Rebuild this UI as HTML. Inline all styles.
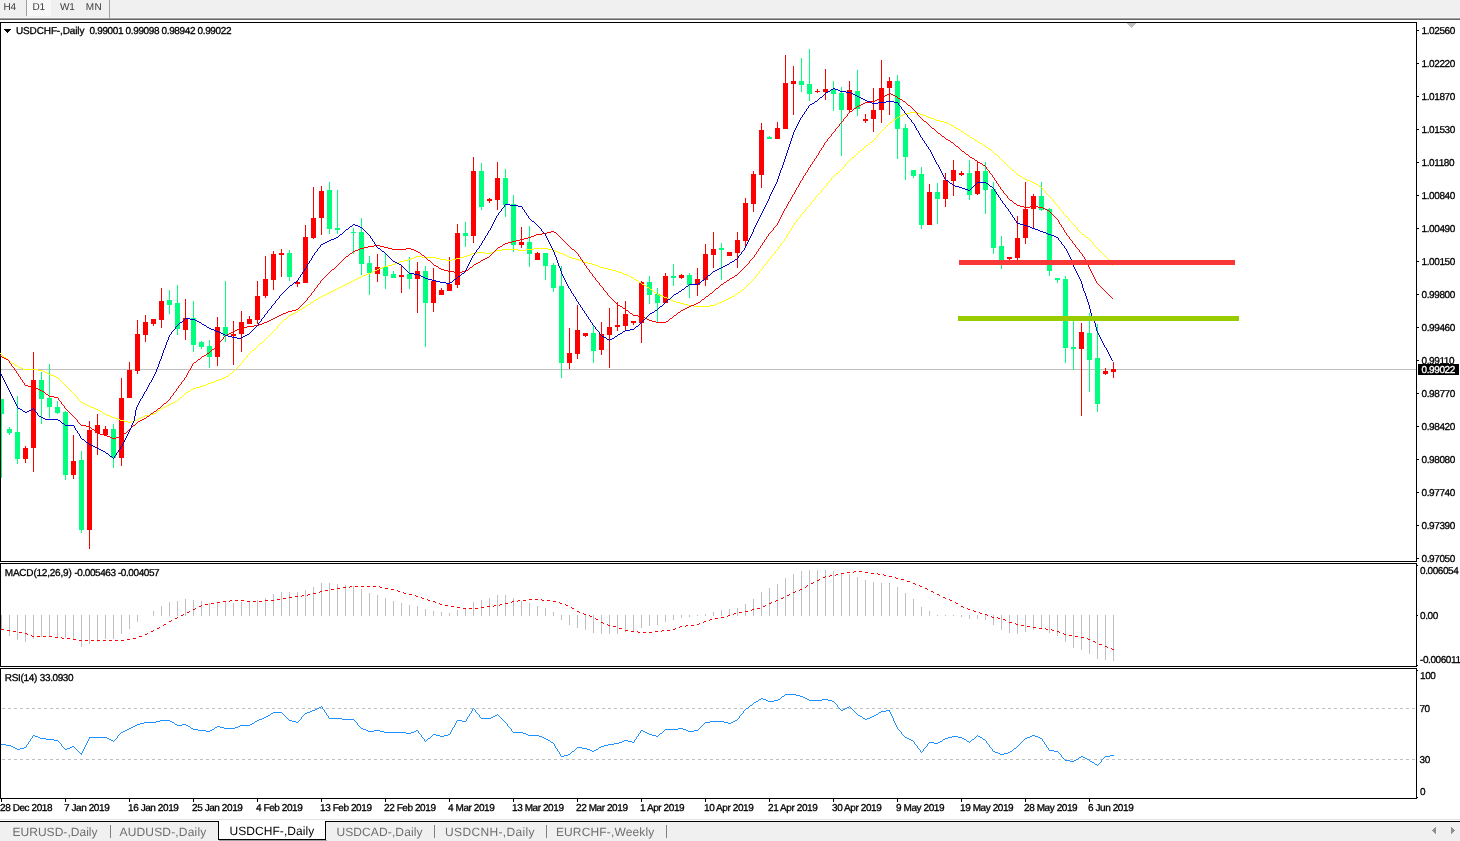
<!DOCTYPE html>
<html lang="en"><head><meta charset="utf-8"><title>USDCHF-,Daily</title>
<style>html,body{margin:0;padding:0;background:#fff;overflow:hidden}body{width:1460px;height:841px;position:relative}svg{position:absolute;left:0;top:0;display:block}text{font-family:"Liberation Sans", sans-serif;}text{text-rendering:geometricPrecision}.s{font-size:10px;letter-spacing:-0.42px;fill:#000;stroke:#000;stroke-width:0.3px}.d{letter-spacing:-0.42px}.tb{font-size:10px;letter-spacing:-0.3px;fill:#3a3a3a}.tab{font-size:12px;fill:#6e6e6e}.ce{shape-rendering:crispEdges}</style></head><body>
<svg width="1460" height="841" viewBox="0 0 1460 841">
<g class="ce">
<rect x="0" y="0" width="1460" height="18" fill="#f0f0f0"/>
<rect x="0" y="17" width="1460" height="1" fill="#f7f7f7"/>
<rect x="0" y="18" width="1460" height="1" fill="#a0a0a0"/>
<rect x="0" y="19" width="1460" height="1" fill="#696969"/>
<defs><pattern id="chk" width="2" height="2" patternUnits="userSpaceOnUse"><rect width="2" height="2" fill="#f0f0f0"/><rect width="1" height="1" fill="#fff"/><rect x="1" y="1" width="1" height="1" fill="#fff"/></pattern></defs>
<rect x="27" y="0" width="24" height="16" fill="url(#chk)"/>
<rect x="26" y="0" width="1" height="16" fill="#a0a0a0"/>
<rect x="109" y="0" width="1" height="18" fill="#a0a0a0"/>
<rect x="0" y="22" width="1417" height="1" fill="#000"/>
<rect x="0" y="22" width="1" height="540" fill="#000"/>
<rect x="0" y="561" width="1417" height="1" fill="#000"/>
<rect x="0" y="563" width="1417" height="1" fill="#000"/>
<rect x="0" y="563" width="1" height="104" fill="#000"/>
<rect x="0" y="666" width="1417" height="1" fill="#000"/>
<rect x="0" y="668" width="1417" height="1" fill="#000"/>
<rect x="0" y="668" width="1" height="131" fill="#000"/>
<rect x="0" y="798" width="1417" height="1" fill="#000"/>
<rect x="1416" y="22" width="1" height="540" fill="#000"/>
<rect x="1416" y="563" width="1" height="104" fill="#000"/>
<rect x="1416" y="668" width="1" height="131" fill="#000"/>
<rect x="1" y="369" width="1415" height="1" fill="#c0c0c0"/>
<polygon points="1127,23 1136,23 1131.5,28" fill="#c0c0c0"/>
<rect x="1" y="399" width="1" height="79" fill="#00ff7f"/>
<rect x="1" y="399" width="3" height="15" fill="#00ff7f"/>
<rect x="9" y="427" width="1" height="8" fill="#00ff7f"/>
<rect x="7" y="429" width="5" height="4" fill="#00ff7f"/>
<rect x="17" y="396" width="1" height="68" fill="#00ff7f"/>
<rect x="15" y="432" width="5" height="27" fill="#00ff7f"/>
<rect x="25" y="446" width="1" height="17" fill="#ff0000"/>
<rect x="23" y="448" width="5" height="11" fill="#ff0000"/>
<rect x="33" y="352" width="1" height="120" fill="#ff0000"/>
<rect x="31" y="380" width="5" height="68" fill="#ff0000"/>
<rect x="41" y="372" width="1" height="52" fill="#00ff7f"/>
<rect x="39" y="380" width="5" height="19" fill="#00ff7f"/>
<rect x="49" y="364" width="1" height="54" fill="#00ff7f"/>
<rect x="47" y="398" width="5" height="9" fill="#00ff7f"/>
<rect x="57" y="401" width="1" height="13" fill="#00ff7f"/>
<rect x="55" y="407" width="5" height="6" fill="#00ff7f"/>
<rect x="65" y="411" width="1" height="69" fill="#00ff7f"/>
<rect x="63" y="412" width="5" height="63" fill="#00ff7f"/>
<rect x="73" y="435" width="1" height="44" fill="#ff0000"/>
<rect x="71" y="461" width="5" height="14" fill="#ff0000"/>
<rect x="81" y="451" width="1" height="82" fill="#00ff7f"/>
<rect x="79" y="460" width="5" height="70" fill="#00ff7f"/>
<rect x="89" y="421" width="1" height="128" fill="#ff0000"/>
<rect x="87" y="430" width="5" height="100" fill="#ff0000"/>
<rect x="97" y="414" width="1" height="41" fill="#ff0000"/>
<rect x="95" y="425" width="5" height="8" fill="#ff0000"/>
<rect x="105" y="426" width="1" height="10" fill="#ff0000"/>
<rect x="103" y="429" width="5" height="6" fill="#ff0000"/>
<rect x="113" y="424" width="1" height="44" fill="#00ff7f"/>
<rect x="111" y="429" width="5" height="29" fill="#00ff7f"/>
<rect x="121" y="378" width="1" height="88" fill="#ff0000"/>
<rect x="119" y="398" width="5" height="60" fill="#ff0000"/>
<rect x="129" y="362" width="1" height="36" fill="#ff0000"/>
<rect x="127" y="370" width="5" height="28" fill="#ff0000"/>
<rect x="137" y="320" width="1" height="54" fill="#ff0000"/>
<rect x="135" y="334" width="5" height="37" fill="#ff0000"/>
<rect x="145" y="315" width="1" height="27" fill="#ff0000"/>
<rect x="143" y="322" width="5" height="13" fill="#ff0000"/>
<rect x="153" y="319" width="1" height="7" fill="#ff0000"/>
<rect x="151" y="319" width="5" height="5" fill="#ff0000"/>
<rect x="161" y="288" width="1" height="40" fill="#ff0000"/>
<rect x="159" y="301" width="5" height="19" fill="#ff0000"/>
<rect x="169" y="290" width="1" height="24" fill="#00ff7f"/>
<rect x="167" y="300" width="5" height="5" fill="#00ff7f"/>
<rect x="177" y="285" width="1" height="50" fill="#00ff7f"/>
<rect x="175" y="303" width="5" height="26" fill="#00ff7f"/>
<rect x="185" y="299" width="1" height="41" fill="#ff0000"/>
<rect x="183" y="318" width="5" height="12" fill="#ff0000"/>
<rect x="193" y="301" width="1" height="51" fill="#00ff7f"/>
<rect x="191" y="318" width="5" height="27" fill="#00ff7f"/>
<rect x="201" y="341" width="1" height="8" fill="#00ff7f"/>
<rect x="199" y="342" width="5" height="5" fill="#00ff7f"/>
<rect x="209" y="340" width="1" height="28" fill="#00ff7f"/>
<rect x="207" y="346" width="5" height="11" fill="#00ff7f"/>
<rect x="217" y="317" width="1" height="49" fill="#ff0000"/>
<rect x="215" y="327" width="5" height="30" fill="#ff0000"/>
<rect x="225" y="281" width="1" height="61" fill="#00ff7f"/>
<rect x="223" y="327" width="5" height="9" fill="#00ff7f"/>
<rect x="233" y="321" width="1" height="44" fill="#ff0000"/>
<rect x="231" y="334" width="5" height="2" fill="#ff0000"/>
<rect x="241" y="311" width="1" height="41" fill="#ff0000"/>
<rect x="239" y="322" width="5" height="12" fill="#ff0000"/>
<rect x="249" y="316" width="1" height="8" fill="#ff0000"/>
<rect x="247" y="319" width="5" height="5" fill="#ff0000"/>
<rect x="257" y="281" width="1" height="43" fill="#ff0000"/>
<rect x="255" y="296" width="5" height="24" fill="#ff0000"/>
<rect x="265" y="256" width="1" height="42" fill="#ff0000"/>
<rect x="263" y="279" width="5" height="17" fill="#ff0000"/>
<rect x="273" y="251" width="1" height="39" fill="#ff0000"/>
<rect x="271" y="254" width="5" height="26" fill="#ff0000"/>
<rect x="281" y="249" width="1" height="28" fill="#ff0000"/>
<rect x="279" y="253" width="5" height="2" fill="#ff0000"/>
<rect x="289" y="250" width="1" height="31" fill="#00ff7f"/>
<rect x="287" y="253" width="5" height="24" fill="#00ff7f"/>
<rect x="297" y="280" width="1" height="7" fill="#ff0000"/>
<rect x="295" y="282" width="5" height="2" fill="#ff0000"/>
<rect x="305" y="225" width="1" height="58" fill="#ff0000"/>
<rect x="303" y="237" width="5" height="46" fill="#ff0000"/>
<rect x="313" y="187" width="1" height="52" fill="#ff0000"/>
<rect x="311" y="218" width="5" height="20" fill="#ff0000"/>
<rect x="321" y="186" width="1" height="49" fill="#ff0000"/>
<rect x="319" y="191" width="5" height="27" fill="#ff0000"/>
<rect x="329" y="182" width="1" height="52" fill="#00ff7f"/>
<rect x="327" y="190" width="5" height="39" fill="#00ff7f"/>
<rect x="337" y="190" width="1" height="44" fill="#00ff7f"/>
<rect x="335" y="228" width="5" height="2" fill="#00ff7f"/>
<rect x="353" y="228" width="1" height="26" fill="#00ff7f"/>
<rect x="351" y="232" width="5" height="1" fill="#00ff7f"/>
<rect x="361" y="218" width="1" height="57" fill="#00ff7f"/>
<rect x="359" y="232" width="5" height="32" fill="#00ff7f"/>
<rect x="369" y="256" width="1" height="39" fill="#00ff7f"/>
<rect x="367" y="263" width="5" height="10" fill="#00ff7f"/>
<rect x="377" y="254" width="1" height="28" fill="#ff0000"/>
<rect x="375" y="267" width="5" height="7" fill="#ff0000"/>
<rect x="385" y="254" width="1" height="35" fill="#00ff7f"/>
<rect x="383" y="267" width="5" height="9" fill="#00ff7f"/>
<rect x="393" y="271" width="1" height="7" fill="#00ff7f"/>
<rect x="391" y="274" width="5" height="4" fill="#00ff7f"/>
<rect x="401" y="265" width="1" height="28" fill="#ff0000"/>
<rect x="399" y="275" width="5" height="2" fill="#ff0000"/>
<rect x="409" y="257" width="1" height="32" fill="#00ff7f"/>
<rect x="407" y="274" width="5" height="5" fill="#00ff7f"/>
<rect x="417" y="262" width="1" height="51" fill="#ff0000"/>
<rect x="415" y="271" width="5" height="8" fill="#ff0000"/>
<rect x="425" y="266" width="1" height="81" fill="#00ff7f"/>
<rect x="423" y="271" width="5" height="32" fill="#00ff7f"/>
<rect x="433" y="268" width="1" height="44" fill="#ff0000"/>
<rect x="431" y="281" width="5" height="22" fill="#ff0000"/>
<rect x="441" y="288" width="1" height="7" fill="#ff0000"/>
<rect x="439" y="290" width="5" height="5" fill="#ff0000"/>
<rect x="449" y="257" width="1" height="34" fill="#ff0000"/>
<rect x="447" y="284" width="5" height="7" fill="#ff0000"/>
<rect x="457" y="224" width="1" height="64" fill="#ff0000"/>
<rect x="455" y="233" width="5" height="52" fill="#ff0000"/>
<rect x="465" y="222" width="1" height="25" fill="#00ff7f"/>
<rect x="463" y="233" width="5" height="3" fill="#00ff7f"/>
<rect x="473" y="157" width="1" height="86" fill="#ff0000"/>
<rect x="471" y="171" width="5" height="65" fill="#ff0000"/>
<rect x="481" y="163" width="1" height="47" fill="#00ff7f"/>
<rect x="479" y="171" width="5" height="36" fill="#00ff7f"/>
<rect x="489" y="198" width="1" height="5" fill="#ff0000"/>
<rect x="487" y="199" width="5" height="2" fill="#ff0000"/>
<rect x="497" y="162" width="1" height="48" fill="#ff0000"/>
<rect x="495" y="178" width="5" height="22" fill="#ff0000"/>
<rect x="505" y="169" width="1" height="48" fill="#00ff7f"/>
<rect x="503" y="178" width="5" height="27" fill="#00ff7f"/>
<rect x="513" y="195" width="1" height="57" fill="#00ff7f"/>
<rect x="511" y="204" width="5" height="41" fill="#00ff7f"/>
<rect x="521" y="227" width="1" height="21" fill="#ff0000"/>
<rect x="519" y="242" width="5" height="3" fill="#ff0000"/>
<rect x="529" y="226" width="1" height="41" fill="#00ff7f"/>
<rect x="527" y="242" width="5" height="12" fill="#00ff7f"/>
<rect x="537" y="252" width="1" height="8" fill="#ff0000"/>
<rect x="535" y="253" width="5" height="7" fill="#ff0000"/>
<rect x="545" y="253" width="1" height="27" fill="#00ff7f"/>
<rect x="543" y="253" width="5" height="13" fill="#00ff7f"/>
<rect x="553" y="263" width="1" height="29" fill="#00ff7f"/>
<rect x="551" y="265" width="5" height="23" fill="#00ff7f"/>
<rect x="561" y="266" width="1" height="112" fill="#00ff7f"/>
<rect x="559" y="286" width="5" height="77" fill="#00ff7f"/>
<rect x="569" y="328" width="1" height="41" fill="#ff0000"/>
<rect x="567" y="353" width="5" height="10" fill="#ff0000"/>
<rect x="577" y="305" width="1" height="54" fill="#ff0000"/>
<rect x="575" y="330" width="5" height="24" fill="#ff0000"/>
<rect x="585" y="333" width="1" height="4" fill="#ff0000"/>
<rect x="583" y="333" width="5" height="3" fill="#ff0000"/>
<rect x="593" y="326" width="1" height="37" fill="#00ff7f"/>
<rect x="591" y="333" width="5" height="18" fill="#00ff7f"/>
<rect x="601" y="322" width="1" height="33" fill="#ff0000"/>
<rect x="599" y="334" width="5" height="16" fill="#ff0000"/>
<rect x="609" y="308" width="1" height="60" fill="#ff0000"/>
<rect x="607" y="327" width="5" height="8" fill="#ff0000"/>
<rect x="617" y="302" width="1" height="29" fill="#ff0000"/>
<rect x="615" y="325" width="5" height="2" fill="#ff0000"/>
<rect x="625" y="301" width="1" height="29" fill="#ff0000"/>
<rect x="623" y="314" width="5" height="12" fill="#ff0000"/>
<rect x="633" y="321" width="1" height="4" fill="#ff0000"/>
<rect x="631" y="321" width="5" height="2" fill="#ff0000"/>
<rect x="641" y="281" width="1" height="62" fill="#ff0000"/>
<rect x="639" y="282" width="5" height="41" fill="#ff0000"/>
<rect x="649" y="276" width="1" height="28" fill="#00ff7f"/>
<rect x="647" y="282" width="5" height="13" fill="#00ff7f"/>
<rect x="657" y="288" width="1" height="34" fill="#00ff7f"/>
<rect x="655" y="294" width="5" height="9" fill="#00ff7f"/>
<rect x="665" y="273" width="1" height="30" fill="#ff0000"/>
<rect x="663" y="276" width="5" height="27" fill="#ff0000"/>
<rect x="673" y="264" width="1" height="22" fill="#00ff7f"/>
<rect x="671" y="276" width="5" height="2" fill="#00ff7f"/>
<rect x="681" y="274" width="1" height="5" fill="#ff0000"/>
<rect x="679" y="275" width="5" height="3" fill="#ff0000"/>
<rect x="689" y="273" width="1" height="25" fill="#00ff7f"/>
<rect x="687" y="275" width="5" height="10" fill="#00ff7f"/>
<rect x="697" y="268" width="1" height="28" fill="#ff0000"/>
<rect x="695" y="279" width="5" height="6" fill="#ff0000"/>
<rect x="705" y="244" width="1" height="42" fill="#ff0000"/>
<rect x="703" y="254" width="5" height="26" fill="#ff0000"/>
<rect x="713" y="232" width="1" height="36" fill="#ff0000"/>
<rect x="711" y="249" width="5" height="6" fill="#ff0000"/>
<rect x="721" y="243" width="1" height="37" fill="#00ff7f"/>
<rect x="719" y="248" width="5" height="2" fill="#00ff7f"/>
<rect x="729" y="252" width="1" height="4" fill="#ff0000"/>
<rect x="727" y="252" width="5" height="4" fill="#ff0000"/>
<rect x="737" y="232" width="1" height="36" fill="#ff0000"/>
<rect x="735" y="240" width="5" height="13" fill="#ff0000"/>
<rect x="745" y="198" width="1" height="48" fill="#ff0000"/>
<rect x="743" y="203" width="5" height="38" fill="#ff0000"/>
<rect x="753" y="171" width="1" height="41" fill="#ff0000"/>
<rect x="751" y="174" width="5" height="30" fill="#ff0000"/>
<rect x="761" y="123" width="1" height="65" fill="#ff0000"/>
<rect x="759" y="130" width="5" height="45" fill="#ff0000"/>
<rect x="769" y="136" width="1" height="3" fill="#00ff7f"/>
<rect x="767" y="137" width="5" height="2" fill="#00ff7f"/>
<rect x="777" y="122" width="1" height="17" fill="#ff0000"/>
<rect x="775" y="128" width="5" height="11" fill="#ff0000"/>
<rect x="785" y="55" width="1" height="74" fill="#ff0000"/>
<rect x="783" y="83" width="5" height="46" fill="#ff0000"/>
<rect x="793" y="66" width="1" height="49" fill="#ff0000"/>
<rect x="791" y="81" width="5" height="3" fill="#ff0000"/>
<rect x="801" y="58" width="1" height="34" fill="#00ff7f"/>
<rect x="799" y="81" width="5" height="4" fill="#00ff7f"/>
<rect x="809" y="49" width="1" height="52" fill="#00ff7f"/>
<rect x="807" y="84" width="5" height="10" fill="#00ff7f"/>
<rect x="817" y="89" width="1" height="4" fill="#ff0000"/>
<rect x="815" y="91" width="5" height="1" fill="#ff0000"/>
<rect x="825" y="69" width="1" height="31" fill="#ff0000"/>
<rect x="823" y="89" width="5" height="3" fill="#ff0000"/>
<rect x="833" y="81" width="1" height="30" fill="#00ff7f"/>
<rect x="831" y="89" width="5" height="5" fill="#00ff7f"/>
<rect x="841" y="87" width="1" height="69" fill="#00ff7f"/>
<rect x="839" y="93" width="5" height="17" fill="#00ff7f"/>
<rect x="849" y="81" width="1" height="31" fill="#ff0000"/>
<rect x="847" y="90" width="5" height="20" fill="#ff0000"/>
<rect x="857" y="70" width="1" height="46" fill="#00ff7f"/>
<rect x="855" y="91" width="5" height="18" fill="#00ff7f"/>
<rect x="865" y="114" width="1" height="9" fill="#ff0000"/>
<rect x="863" y="119" width="5" height="2" fill="#ff0000"/>
<rect x="873" y="88" width="1" height="44" fill="#ff0000"/>
<rect x="871" y="110" width="5" height="9" fill="#ff0000"/>
<rect x="881" y="60" width="1" height="63" fill="#ff0000"/>
<rect x="879" y="88" width="5" height="22" fill="#ff0000"/>
<rect x="889" y="77" width="1" height="38" fill="#ff0000"/>
<rect x="887" y="81" width="5" height="7" fill="#ff0000"/>
<rect x="897" y="75" width="1" height="84" fill="#00ff7f"/>
<rect x="895" y="81" width="5" height="48" fill="#00ff7f"/>
<rect x="905" y="124" width="1" height="56" fill="#00ff7f"/>
<rect x="903" y="128" width="5" height="29" fill="#00ff7f"/>
<rect x="913" y="170" width="1" height="8" fill="#00ff7f"/>
<rect x="911" y="170" width="5" height="6" fill="#00ff7f"/>
<rect x="921" y="167" width="1" height="62" fill="#00ff7f"/>
<rect x="919" y="174" width="5" height="51" fill="#00ff7f"/>
<rect x="929" y="184" width="1" height="41" fill="#ff0000"/>
<rect x="927" y="192" width="5" height="33" fill="#ff0000"/>
<rect x="937" y="183" width="1" height="41" fill="#00ff7f"/>
<rect x="935" y="192" width="5" height="7" fill="#00ff7f"/>
<rect x="945" y="173" width="1" height="34" fill="#ff0000"/>
<rect x="943" y="180" width="5" height="19" fill="#ff0000"/>
<rect x="953" y="160" width="1" height="36" fill="#ff0000"/>
<rect x="951" y="170" width="5" height="11" fill="#ff0000"/>
<rect x="961" y="171" width="1" height="5" fill="#ff0000"/>
<rect x="959" y="173" width="5" height="2" fill="#ff0000"/>
<rect x="969" y="160" width="1" height="40" fill="#00ff7f"/>
<rect x="967" y="173" width="5" height="22" fill="#00ff7f"/>
<rect x="977" y="162" width="1" height="33" fill="#ff0000"/>
<rect x="975" y="171" width="5" height="23" fill="#ff0000"/>
<rect x="985" y="162" width="1" height="52" fill="#00ff7f"/>
<rect x="983" y="171" width="5" height="19" fill="#00ff7f"/>
<rect x="993" y="182" width="1" height="72" fill="#00ff7f"/>
<rect x="991" y="189" width="5" height="59" fill="#00ff7f"/>
<rect x="1001" y="236" width="1" height="33" fill="#00ff7f"/>
<rect x="999" y="246" width="5" height="16" fill="#00ff7f"/>
<rect x="1009" y="257" width="1" height="5" fill="#ff0000"/>
<rect x="1007" y="257" width="5" height="2" fill="#ff0000"/>
<rect x="1017" y="216" width="1" height="46" fill="#ff0000"/>
<rect x="1015" y="238" width="5" height="20" fill="#ff0000"/>
<rect x="1025" y="182" width="1" height="62" fill="#ff0000"/>
<rect x="1023" y="209" width="5" height="29" fill="#ff0000"/>
<rect x="1033" y="194" width="1" height="34" fill="#ff0000"/>
<rect x="1031" y="196" width="5" height="13" fill="#ff0000"/>
<rect x="1041" y="182" width="1" height="29" fill="#00ff7f"/>
<rect x="1039" y="196" width="5" height="14" fill="#00ff7f"/>
<rect x="1049" y="208" width="1" height="68" fill="#00ff7f"/>
<rect x="1047" y="209" width="5" height="62" fill="#00ff7f"/>
<rect x="1057" y="278" width="1" height="5" fill="#00ff7f"/>
<rect x="1055" y="278" width="5" height="2" fill="#00ff7f"/>
<rect x="1065" y="276" width="1" height="87" fill="#00ff7f"/>
<rect x="1063" y="279" width="5" height="69" fill="#00ff7f"/>
<rect x="1073" y="316" width="1" height="54" fill="#00ff7f"/>
<rect x="1071" y="347" width="5" height="2" fill="#00ff7f"/>
<rect x="1081" y="323" width="1" height="93" fill="#ff0000"/>
<rect x="1079" y="332" width="5" height="17" fill="#ff0000"/>
<rect x="1089" y="313" width="1" height="79" fill="#00ff7f"/>
<rect x="1087" y="333" width="5" height="27" fill="#00ff7f"/>
<rect x="1097" y="324" width="1" height="88" fill="#00ff7f"/>
<rect x="1095" y="358" width="5" height="46" fill="#00ff7f"/>
<rect x="1105" y="368" width="1" height="7" fill="#ff0000"/>
<rect x="1103" y="371" width="5" height="3" fill="#ff0000"/>
<rect x="1113" y="362" width="1" height="16" fill="#ff0000"/>
<rect x="1111" y="369" width="5" height="3" fill="#ff0000"/>
<path d="M77.5 397v2M242.5 361v2M247.5 355v2M277.5 326v2M755.5 276v2M759.5 271v2M763.5 266v2M767.5 261v2M771.5 256v2M775.5 251v2M778.5 247v2M781.5 243v2M784.5 239v2M786.5 236v2M787.5 234v2M789.5 231v2M791.5 228v2M792.5 226v2M794.5 223v2M797.5 219v2M800.5 215v2M805.5 209v2M811.5 202v2M815.5 197v2M821.5 190v2M827.5 183v2M831.5 178v2M845.5 164v2M877.5 135v2M1045.5 191v2M1053.5 200v2M1059.5 207v2M1063.5 212v2M1069.5 219v2M1077.5 228v2M1093.5 243v2M1109.5 260v2M1111.5 263v2M910 112.5h6M905 113.5h5M916 113.5h4M903 114.5h2M920 114.5h3M901 115.5h2M923 115.5h3M899 116.5h2M926 116.5h2M897 117.5h2M928 117.5h3M896 118.5h1M931 118.5h3M894 119.5h2M934 119.5h2M893 120.5h1M936 120.5h4M892 121.5h1M940 121.5h4M890 122.5h2M944 122.5h3M889 123.5h1M947 123.5h2M888 124.5h1M949 124.5h2M887 125.5h1M951 125.5h2M886 126.5h1M953 126.5h1M885 127.5h1M954 127.5h2M884 128.5h1M956 128.5h2M883 129.5h1M958 129.5h2M882 130.5h1M960 130.5h1M881 131.5h1M961 131.5h2M880 132.5h1M963 132.5h1M879 133.5h1M964 133.5h2M878 134.5h1M966 134.5h1M967 135.5h2M969 136.5h1M876 137.5h1M970 137.5h2M875 138.5h1M972 138.5h2M874 139.5h1M974 139.5h1M873 140.5h1M975 140.5h2M872 141.5h1M977 141.5h1M870 142.5h2M978 142.5h2M869 143.5h1M980 143.5h2M868 144.5h1M982 144.5h1M866 145.5h2M983 145.5h2M865 146.5h1M985 146.5h1M864 147.5h1M986 147.5h2M863 148.5h1M988 148.5h1M862 149.5h1M989 149.5h2M860 150.5h2M991 150.5h1M859 151.5h1M992 151.5h1M858 152.5h1M993 152.5h1M857 153.5h1M994 153.5h1M856 154.5h1M995 154.5h2M855 155.5h1M997 155.5h1M854 156.5h1M998 156.5h1M852 157.5h2M999 157.5h1M851 158.5h1M1000 158.5h1M850 159.5h1M1001 159.5h1M849 160.5h1M1002 160.5h1M848 161.5h1M1003 161.5h1M847 162.5h1M1004 162.5h1M846 163.5h1M1005 163.5h1M1006 164.5h1M1007 165.5h1M844 166.5h1M1008 166.5h1M843 167.5h1M1009 167.5h1M842 168.5h1M1010 168.5h1M841 169.5h1M1011 169.5h1M840 170.5h1M1012 170.5h2M839 171.5h1M1014 171.5h1M838 172.5h1M1015 172.5h1M836 173.5h2M1016 173.5h1M835 174.5h1M1017 174.5h1M834 175.5h1M1018 175.5h2M833 176.5h1M1020 176.5h2M832 177.5h1M1022 177.5h1M1023 178.5h2M1025 179.5h2M830 180.5h1M1027 180.5h3M829 181.5h1M1030 181.5h2M828 182.5h1M1032 182.5h2M1034 183.5h2M1036 184.5h2M826 185.5h1M1038 185.5h1M825 186.5h1M1039 186.5h2M824 187.5h1M1041 187.5h1M823 188.5h1M1042 188.5h1M822 189.5h1M1043 189.5h1M1044 190.5h1M820 192.5h1M819 193.5h1M1046 193.5h1M818 194.5h1M1047 194.5h1M817 195.5h1M1048 195.5h1M816 196.5h1M1049 196.5h1M1050 197.5h1M1051 198.5h1M814 199.5h1M1052 199.5h1M813 200.5h1M812 201.5h1M1054 202.5h1M1055 203.5h1M810 204.5h1M1056 204.5h1M809 205.5h1M1057 205.5h1M808 206.5h1M1058 206.5h1M807 207.5h1M806 208.5h1M1060 209.5h1M1061 210.5h1M804 211.5h1M1062 211.5h1M803 212.5h1M802 213.5h1M801 214.5h1M1064 214.5h1M1065 215.5h1M1066 216.5h1M799 217.5h1M1067 217.5h1M798 218.5h1M1068 218.5h1M796 221.5h1M1070 221.5h1M795 222.5h1M1071 222.5h1M1072 223.5h1M1073 224.5h1M793 225.5h1M1074 225.5h1M1075 226.5h1M1076 227.5h1M790 230.5h1M1078 230.5h1M1079 231.5h1M1080 232.5h1M788 233.5h1M1081 233.5h1M1082 234.5h2M1084 235.5h1M1085 236.5h1M1086 237.5h2M785 238.5h1M1088 238.5h1M1089 239.5h1M1090 240.5h1M783 241.5h1M1091 241.5h1M782 242.5h1M1092 242.5h1M780 245.5h1M1094 245.5h1M779 246.5h1M1095 246.5h1M1096 247.5h1M534 248.5h14M1097 248.5h1M502 249.5h16M526 249.5h8M548 249.5h4M777 249.5h1M1098 249.5h1M496 250.5h6M518 250.5h8M552 250.5h3M776 250.5h1M1099 250.5h1M494 251.5h2M555 251.5h3M1100 251.5h1M477 252.5h8M491 252.5h3M558 252.5h2M1101 252.5h1M472 253.5h5M485 253.5h6M560 253.5h3M774 253.5h1M1102 253.5h1M470 254.5h2M563 254.5h2M773 254.5h1M1103 254.5h1M467 255.5h3M565 255.5h2M772 255.5h1M1104 255.5h1M416 256.5h6M464 256.5h3M567 256.5h2M1105 256.5h1M414 257.5h2M422 257.5h14M460 257.5h4M569 257.5h3M1106 257.5h1M411 258.5h3M436 258.5h4M456 258.5h4M572 258.5h4M770 258.5h1M1107 258.5h1M408 259.5h3M440 259.5h6M452 259.5h4M576 259.5h3M769 259.5h1M1108 259.5h1M404 260.5h4M446 260.5h6M579 260.5h3M768 260.5h1M400 261.5h4M582 261.5h2M398 262.5h2M584 262.5h4M1110 262.5h1M395 263.5h3M588 263.5h4M766 263.5h1M392 264.5h3M592 264.5h3M765 264.5h1M388 265.5h4M595 265.5h3M764 265.5h1M1112 265.5h1M384 266.5h4M598 266.5h2M382 267.5h2M600 267.5h4M379 268.5h3M604 268.5h4M762 268.5h1M377 269.5h2M608 269.5h4M761 269.5h1M375 270.5h2M612 270.5h4M760 270.5h1M373 271.5h2M616 271.5h3M371 272.5h2M619 272.5h3M368 273.5h3M622 273.5h2M758 273.5h1M366 274.5h2M624 274.5h3M757 274.5h1M363 275.5h3M627 275.5h2M756 275.5h1M361 276.5h2M629 276.5h2M359 277.5h2M631 277.5h2M357 278.5h2M633 278.5h1M754 278.5h1M355 279.5h2M634 279.5h2M753 279.5h1M353 280.5h2M636 280.5h2M752 280.5h1M351 281.5h2M638 281.5h1M751 281.5h1M349 282.5h2M639 282.5h2M750 282.5h1M347 283.5h2M641 283.5h1M749 283.5h1M345 284.5h2M642 284.5h2M748 284.5h1M343 285.5h2M644 285.5h2M747 285.5h1M341 286.5h2M646 286.5h1M746 286.5h1M339 287.5h2M647 287.5h2M745 287.5h1M337 288.5h2M649 288.5h1M744 288.5h1M335 289.5h2M650 289.5h2M742 289.5h2M333 290.5h2M652 290.5h1M741 290.5h1M331 291.5h2M653 291.5h1M740 291.5h1M329 292.5h2M654 292.5h2M738 292.5h2M327 293.5h2M656 293.5h1M737 293.5h1M325 294.5h2M657 294.5h2M735 294.5h2M323 295.5h2M659 295.5h3M734 295.5h1M321 296.5h2M662 296.5h2M732 296.5h2M319 297.5h2M664 297.5h3M730 297.5h2M318 298.5h1M667 298.5h2M728 298.5h2M316 299.5h2M669 299.5h2M726 299.5h2M314 300.5h2M671 300.5h2M724 300.5h2M313 301.5h1M673 301.5h3M722 301.5h2M311 302.5h2M676 302.5h4M719 302.5h3M310 303.5h1M680 303.5h4M717 303.5h2M308 304.5h2M684 304.5h4M715 304.5h2M306 305.5h2M688 305.5h6M710 305.5h5M305 306.5h1M694 306.5h16M303 307.5h2M302 308.5h1M300 309.5h2M298 310.5h2M297 311.5h1M295 312.5h2M293 313.5h2M291 314.5h2M289 315.5h2M288 316.5h1M287 317.5h1M286 318.5h1M284 319.5h2M283 320.5h1M282 321.5h1M281 322.5h1M280 323.5h1M279 324.5h1M278 325.5h1M276 328.5h1M275 329.5h1M274 330.5h1M273 331.5h1M272 332.5h1M271 333.5h1M270 334.5h1M269 335.5h1M268 336.5h1M267 337.5h1M266 338.5h1M265 339.5h1M264 340.5h1M263 341.5h1M262 342.5h1M260 343.5h2M259 344.5h1M258 345.5h1M257 346.5h1M256 347.5h1M255 348.5h1M254 349.5h1M252 350.5h2M251 351.5h1M250 352.5h1M0 353.5h1M249 353.5h1M1 354.5h1M248 354.5h1M2 355.5h1M3 356.5h1M4 357.5h2M246 357.5h1M6 358.5h1M245 358.5h1M7 359.5h1M244 359.5h1M8 360.5h1M243 360.5h1M9 361.5h2M11 362.5h1M12 363.5h2M241 363.5h1M14 364.5h1M240 364.5h1M15 365.5h2M239 365.5h1M17 366.5h2M238 366.5h1M19 367.5h2M237 367.5h1M21 368.5h2M236 368.5h1M23 369.5h15M235 369.5h1M38 370.5h5M234 370.5h1M43 371.5h2M233 371.5h1M45 372.5h2M232 372.5h1M47 373.5h2M230 373.5h2M49 374.5h2M229 374.5h1M51 375.5h3M228 375.5h1M54 376.5h2M226 376.5h2M56 377.5h2M224 377.5h2M58 378.5h1M222 378.5h2M59 379.5h1M219 379.5h3M60 380.5h1M216 380.5h3M61 381.5h1M214 381.5h2M62 382.5h1M211 382.5h3M63 383.5h1M208 383.5h3M64 384.5h1M206 384.5h2M65 385.5h1M203 385.5h3M66 386.5h1M200 386.5h3M67 387.5h1M196 387.5h4M68 388.5h1M193 388.5h3M69 389.5h1M191 389.5h2M70 390.5h1M190 390.5h1M71 391.5h1M188 391.5h2M72 392.5h1M186 392.5h2M73 393.5h1M185 393.5h1M74 394.5h1M184 394.5h1M75 395.5h1M183 395.5h1M76 396.5h1M182 396.5h1M180 397.5h2M179 398.5h1M78 399.5h1M178 399.5h1M79 400.5h1M177 400.5h1M80 401.5h1M175 401.5h2M81 402.5h2M173 402.5h2M83 403.5h2M171 403.5h2M85 404.5h2M169 404.5h2M87 405.5h2M167 405.5h2M89 406.5h2M165 406.5h2M91 407.5h3M163 407.5h2M94 408.5h2M161 408.5h2M96 409.5h2M160 409.5h1M98 410.5h2M158 410.5h2M100 411.5h2M157 411.5h1M102 412.5h1M156 412.5h1M103 413.5h2M154 413.5h2M105 414.5h2M150 414.5h4M107 415.5h3M145 415.5h5M110 416.5h2M143 416.5h2M112 417.5h3M141 417.5h2M115 418.5h3M139 418.5h2M118 419.5h2M137 419.5h2M120 420.5h4M134 420.5h3M124 421.5h4M131 421.5h3M128 422.5h3" fill="none" stroke="#ffff00" stroke-width="1"/>
<path d="M9.5 361v2M11.5 364v2M14.5 368v2M16.5 371v2M18.5 374v2M20.5 377v2M22.5 380v2M24.5 383v2M58.5 398v2M61.5 402v2M64.5 406v2M77.5 420v2M170.5 397v2M173.5 393v2M176.5 389v2M178.5 386v2M181.5 382v2M184.5 378v2M186.5 375v2M187.5 373v2M188.5 371v2M190.5 368v2M191.5 366v2M192.5 364v2M219.5 342v2M223.5 337v2M307.5 298v2M311.5 293v2M314.5 289v2M317.5 285v2M320.5 281v2M578.5 254v2M580.5 257v2M582.5 260v2M584.5 263v2M586.5 266v2M589.5 270v2M592.5 274v2M595.5 278v2M599.5 283v2M603.5 288v2M607.5 293v2M749.5 261v2M754.5 255v2M756.5 252v2M758.5 249v2M760.5 246v2M762.5 243v2M764.5 240v2M766.5 237v2M768.5 234v2M773.5 228v2M777.5 223v2M778.5 221v2M779.5 219v2M780.5 217v2M781.5 215v2M782.5 213v2M783.5 211v2M784.5 209v2M786.5 206v2M787.5 204v2M788.5 202v2M790.5 199v2M791.5 197v2M792.5 195v2M794.5 192v2M795.5 190v2M796.5 188v2M798.5 185v2M799.5 183v2M800.5 181v2M802.5 178v2M803.5 176v2M805.5 173v2M807.5 170v2M808.5 168v2M810.5 165v2M812.5 162v2M814.5 159v2M816.5 156v2M818.5 153v2M819.5 151v2M821.5 148v2M823.5 145v2M824.5 143v2M827.5 139v2M831.5 134v2M835.5 129v2M839.5 124v2M843.5 119v2M847.5 114v2M917.5 113v2M986.5 167v2M989.5 171v2M992.5 175v2M994.5 178v2M996.5 181v2M998.5 184v2M1000.5 187v2M1003.5 191v2M1007.5 196v2M1058.5 220v2M1059.5 222v2M1061.5 225v2M1063.5 228v2M1064.5 230v2M1066.5 233v2M1069.5 237v2M1072.5 241v2M1075.5 245v2M1079.5 250v2M1082.5 254v2M1084.5 257v2M1085.5 259v2M1086.5 261v2M1087.5 263v2M1088.5 265v2M1089.5 267v2M1090.5 269v2M1091.5 271v2M1092.5 273v2M1093.5 275v2M1094.5 277v2M1095.5 279v2M1096.5 281v2M889 93.5h2M887 94.5h2M891 94.5h2M885 95.5h2M893 95.5h2M883 96.5h2M895 96.5h2M881 97.5h2M897 97.5h1M879 98.5h2M898 98.5h2M877 99.5h2M900 99.5h2M875 100.5h2M902 100.5h1M870 101.5h5M903 101.5h2M865 102.5h5M905 102.5h1M863 103.5h2M906 103.5h1M861 104.5h2M907 104.5h1M859 105.5h2M908 105.5h2M857 106.5h2M910 106.5h1M856 107.5h1M911 107.5h1M854 108.5h2M912 108.5h1M853 109.5h1M913 109.5h1M852 110.5h1M914 110.5h1M850 111.5h2M915 111.5h1M849 112.5h1M916 112.5h1M848 113.5h1M918 115.5h1M846 116.5h1M919 116.5h1M845 117.5h1M920 117.5h1M844 118.5h1M921 118.5h1M922 119.5h1M923 120.5h1M842 121.5h1M924 121.5h2M841 122.5h1M926 122.5h1M840 123.5h1M927 123.5h1M928 124.5h1M929 125.5h1M838 126.5h1M930 126.5h1M837 127.5h1M931 127.5h1M836 128.5h1M932 128.5h2M934 129.5h1M935 130.5h1M834 131.5h1M936 131.5h1M833 132.5h1M937 132.5h1M832 133.5h1M938 133.5h2M940 134.5h1M941 135.5h1M830 136.5h1M942 136.5h2M829 137.5h1M944 137.5h1M828 138.5h1M945 138.5h1M946 139.5h2M948 140.5h2M826 141.5h1M950 141.5h1M825 142.5h1M951 142.5h2M953 143.5h1M954 144.5h1M955 145.5h1M956 146.5h2M822 147.5h1M958 147.5h1M959 148.5h1M960 149.5h1M820 150.5h1M961 150.5h1M962 151.5h2M964 152.5h1M965 153.5h1M966 154.5h2M817 155.5h1M968 155.5h1M969 156.5h1M970 157.5h2M815 158.5h1M972 158.5h2M974 159.5h1M975 160.5h2M813 161.5h1M977 161.5h1M978 162.5h2M980 163.5h2M811 164.5h1M982 164.5h1M983 165.5h2M985 166.5h1M809 167.5h1M987 169.5h1M988 170.5h1M806 172.5h1M990 173.5h1M991 174.5h1M804 175.5h1M993 177.5h1M801 180.5h1M995 180.5h1M997 183.5h1M999 186.5h1M797 187.5h1M1001 189.5h1M1002 190.5h1M1004 193.5h1M793 194.5h1M1005 194.5h1M1006 195.5h1M1008 198.5h1M1009 199.5h1M1010 200.5h2M789 201.5h1M1012 201.5h1M1013 202.5h1M1014 203.5h2M1016 204.5h1M1017 205.5h3M1020 206.5h4M1030 206.5h8M1024 207.5h6M1038 207.5h5M785 208.5h1M1043 208.5h2M1045 209.5h2M1047 210.5h2M1049 211.5h1M1050 212.5h1M1051 213.5h1M1052 214.5h1M1053 215.5h1M1054 216.5h1M1055 217.5h1M1056 218.5h1M1057 219.5h1M1060 224.5h1M776 225.5h1M775 226.5h1M774 227.5h1M1062 227.5h1M772 230.5h1M551 231.5h3M771 231.5h1M547 232.5h4M554 232.5h2M770 232.5h1M1065 232.5h1M542 233.5h5M556 233.5h1M769 233.5h1M536 234.5h6M557 234.5h1M534 235.5h2M558 235.5h1M1067 235.5h1M531 236.5h3M559 236.5h1M767 236.5h1M1068 236.5h1M528 237.5h3M560 237.5h1M524 238.5h4M561 238.5h1M520 239.5h4M562 239.5h1M765 239.5h1M1070 239.5h1M516 240.5h4M563 240.5h1M1071 240.5h1M512 241.5h4M564 241.5h1M508 242.5h4M565 242.5h1M763 242.5h1M505 243.5h3M566 243.5h1M1073 243.5h1M503 244.5h2M567 244.5h1M1074 244.5h1M374 245.5h6M502 245.5h1M568 245.5h1M761 245.5h1M368 246.5h6M380 246.5h4M500 246.5h2M569 246.5h1M364 247.5h4M384 247.5h4M498 247.5h2M570 247.5h1M1076 247.5h1M360 248.5h4M388 248.5h4M406 248.5h5M497 248.5h1M571 248.5h1M759 248.5h1M1077 248.5h1M358 249.5h2M392 249.5h14M411 249.5h3M496 249.5h1M572 249.5h2M1078 249.5h1M355 250.5h3M414 250.5h2M495 250.5h1M574 250.5h1M353 251.5h2M416 251.5h2M494 251.5h1M575 251.5h1M757 251.5h1M352 252.5h1M418 252.5h2M493 252.5h1M576 252.5h1M1080 252.5h1M350 253.5h2M420 253.5h1M492 253.5h1M577 253.5h1M1081 253.5h1M349 254.5h1M421 254.5h1M491 254.5h1M755 254.5h1M348 255.5h1M422 255.5h2M490 255.5h1M346 256.5h2M424 256.5h1M489 256.5h1M579 256.5h1M1083 256.5h1M345 257.5h1M425 257.5h1M487 257.5h2M753 257.5h1M344 258.5h1M426 258.5h1M485 258.5h2M752 258.5h1M343 259.5h1M427 259.5h1M483 259.5h2M581 259.5h1M751 259.5h1M342 260.5h1M428 260.5h2M481 260.5h2M750 260.5h1M341 261.5h1M430 261.5h1M480 261.5h1M340 262.5h1M431 262.5h1M478 262.5h2M583 262.5h1M339 263.5h1M432 263.5h1M476 263.5h2M748 263.5h1M338 264.5h1M433 264.5h1M474 264.5h2M747 264.5h1M337 265.5h1M434 265.5h2M473 265.5h1M585 265.5h1M746 265.5h1M336 266.5h1M436 266.5h2M472 266.5h1M745 266.5h1M335 267.5h1M438 267.5h1M470 267.5h2M744 267.5h1M334 268.5h1M439 268.5h2M469 268.5h1M587 268.5h1M743 268.5h1M332 269.5h2M441 269.5h3M468 269.5h1M588 269.5h1M742 269.5h1M331 270.5h1M444 270.5h4M466 270.5h2M741 270.5h1M330 271.5h1M448 271.5h6M462 271.5h4M740 271.5h1M329 272.5h1M454 272.5h8M590 272.5h1M739 272.5h1M328 273.5h1M591 273.5h1M738 273.5h1M327 274.5h1M737 274.5h1M326 275.5h1M735 275.5h2M325 276.5h1M593 276.5h1M734 276.5h1M324 277.5h1M594 277.5h1M732 277.5h2M323 278.5h1M730 278.5h2M322 279.5h1M729 279.5h1M321 280.5h1M596 280.5h1M727 280.5h2M597 281.5h1M726 281.5h1M598 282.5h1M724 282.5h2M319 283.5h1M723 283.5h1M1097 283.5h1M318 284.5h1M721 284.5h2M1098 284.5h1M600 285.5h1M720 285.5h1M1099 285.5h1M601 286.5h1M719 286.5h1M1100 286.5h1M316 287.5h1M602 287.5h1M718 287.5h1M1101 287.5h1M315 288.5h1M716 288.5h2M1102 288.5h1M715 289.5h1M1103 289.5h1M604 290.5h1M714 290.5h1M1104 290.5h1M313 291.5h1M605 291.5h1M713 291.5h1M1105 291.5h1M312 292.5h1M606 292.5h1M712 292.5h1M1106 292.5h1M710 293.5h2M1107 293.5h1M709 294.5h1M1108 294.5h1M310 295.5h1M608 295.5h1M708 295.5h1M1109 295.5h1M309 296.5h1M609 296.5h1M706 296.5h2M1110 296.5h1M308 297.5h1M610 297.5h1M705 297.5h1M1111 297.5h1M611 298.5h1M704 298.5h1M1112 298.5h1M612 299.5h1M702 299.5h2M306 300.5h1M613 300.5h1M701 300.5h1M305 301.5h1M614 301.5h1M700 301.5h1M304 302.5h1M615 302.5h1M698 302.5h2M303 303.5h1M616 303.5h1M696 303.5h2M302 304.5h1M617 304.5h1M694 304.5h2M301 305.5h1M618 305.5h2M691 305.5h3M300 306.5h1M620 306.5h2M689 306.5h2M299 307.5h1M622 307.5h1M687 307.5h2M298 308.5h1M623 308.5h2M685 308.5h2M296 309.5h2M625 309.5h1M683 309.5h2M292 310.5h4M626 310.5h2M681 310.5h2M288 311.5h4M628 311.5h1M680 311.5h1M286 312.5h2M629 312.5h1M678 312.5h2M283 313.5h3M630 313.5h2M677 313.5h1M281 314.5h2M632 314.5h1M676 314.5h1M279 315.5h2M633 315.5h5M674 315.5h2M277 316.5h2M638 316.5h5M673 316.5h1M275 317.5h2M643 317.5h2M672 317.5h1M273 318.5h2M645 318.5h2M670 318.5h2M271 319.5h2M647 319.5h2M669 319.5h1M269 320.5h2M649 320.5h3M668 320.5h1M267 321.5h2M652 321.5h4M666 321.5h2M264 322.5h3M656 322.5h10M262 323.5h2M259 324.5h3M254 325.5h5M247 326.5h7M243 327.5h4M239 328.5h4M237 329.5h2M235 330.5h2M233 331.5h2M231 332.5h2M229 333.5h2M227 334.5h2M225 335.5h2M224 336.5h1M222 339.5h1M221 340.5h1M220 341.5h1M218 344.5h1M217 345.5h1M216 346.5h1M215 347.5h1M214 348.5h1M212 349.5h2M211 350.5h1M210 351.5h1M209 352.5h1M207 353.5h2M206 354.5h1M0 355.5h1M204 355.5h2M1 356.5h1M202 356.5h2M2 357.5h2M201 357.5h1M4 358.5h2M200 358.5h1M6 359.5h2M198 359.5h2M8 360.5h1M197 360.5h1M196 361.5h1M194 362.5h2M10 363.5h1M193 363.5h1M12 366.5h1M13 367.5h1M15 370.5h1M189 370.5h1M17 373.5h1M19 376.5h1M185 377.5h1M21 379.5h1M183 380.5h1M182 381.5h1M23 382.5h1M180 384.5h1M25 385.5h3M179 385.5h1M28 386.5h4M32 387.5h3M35 388.5h3M177 388.5h1M38 389.5h2M40 390.5h2M42 391.5h2M175 391.5h1M44 392.5h1M174 392.5h1M45 393.5h1M46 394.5h2M48 395.5h1M172 395.5h1M49 396.5h5M171 396.5h1M54 397.5h4M169 399.5h1M59 400.5h1M168 400.5h1M60 401.5h1M167 401.5h1M166 402.5h1M164 403.5h2M62 404.5h1M163 404.5h1M63 405.5h1M162 405.5h1M161 406.5h1M160 407.5h1M65 408.5h1M158 408.5h2M66 409.5h1M157 409.5h1M67 410.5h1M156 410.5h1M68 411.5h1M154 411.5h2M69 412.5h1M153 412.5h1M70 413.5h1M151 413.5h2M71 414.5h1M150 414.5h1M72 415.5h1M149 415.5h1M73 416.5h1M147 416.5h2M74 417.5h1M146 417.5h1M75 418.5h1M144 418.5h2M76 419.5h1M142 419.5h2M140 420.5h2M138 421.5h2M78 422.5h1M137 422.5h1M79 423.5h1M136 423.5h1M80 424.5h1M135 424.5h1M81 425.5h5M133 425.5h2M86 426.5h4M132 426.5h1M90 427.5h1M131 427.5h1M91 428.5h1M130 428.5h1M92 429.5h2M129 429.5h1M94 430.5h1M128 430.5h1M95 431.5h1M127 431.5h1M96 432.5h1M126 432.5h1M97 433.5h3M124 433.5h2M100 434.5h4M123 434.5h1M104 435.5h3M122 435.5h1M107 436.5h3M120 436.5h2M110 437.5h2M116 437.5h4M112 438.5h4" fill="none" stroke="#ff0000" stroke-width="1"/>
<path d="M1.5 374v2M2.5 376v2M3.5 378v2M4.5 380v2M5.5 382v2M6.5 384v2M7.5 386v2M8.5 388v2M9.5 390v2M10.5 392v2M11.5 394v2M12.5 396v2M13.5 398v2M14.5 400v2M15.5 402v2M16.5 404v2M17.5 406v2M34.5 409v2M37.5 413v2M74.5 426v2M75.5 428v2M77.5 431v2M79.5 434v2M80.5 436v2M114.5 456v2M116.5 453v2M118.5 450v2M120.5 447v2M122.5 444v2M123.5 442v2M124.5 440v2M125.5 438v2M126.5 436v2M127.5 434v2M128.5 432v2M129.5 430v2M130.5 428v2M131.5 425v3M132.5 423v2M133.5 421v2M134.5 416v5M135.5 410v6M136.5 407v3M137.5 405v2M138.5 403v2M139.5 401v2M140.5 399v2M142.5 396v2M143.5 394v2M144.5 392v2M146.5 389v2M147.5 387v2M148.5 385v2M149.5 383v2M151.5 380v2M152.5 378v2M153.5 376v2M154.5 374v2M155.5 372v2M156.5 369v3M157.5 367v2M158.5 364v3M159.5 361v3M160.5 359v2M161.5 356v3M162.5 353v3M163.5 350v3M164.5 348v2M165.5 345v3M166.5 342v3M167.5 340v2M168.5 337v3M169.5 335v2M171.5 332v2M175.5 327v2M258.5 323v2M261.5 319v2M264.5 315v2M267.5 311v2M271.5 306v2M275.5 301v2M279.5 296v2M298.5 278v2M300.5 275v2M302.5 272v2M304.5 269v2M306.5 266v2M307.5 264v2M309.5 261v2M311.5 258v2M312.5 256v2M314.5 253v2M317.5 249v2M320.5 245v2M370.5 236v2M372.5 239v2M374.5 242v2M376.5 245v2M465.5 270v2M466.5 268v2M467.5 266v2M468.5 264v2M469.5 262v2M470.5 260v2M471.5 258v2M472.5 256v2M474.5 253v2M476.5 250v2M479.5 246v2M481.5 243v2M482.5 241v2M484.5 238v2M485.5 236v2M487.5 233v2M488.5 231v2M490.5 228v2M491.5 226v2M492.5 224v2M493.5 222v2M494.5 220v2M495.5 218v2M496.5 216v2M498.5 213v2M501.5 209v2M504.5 205v2M522.5 207v2M524.5 210v2M526.5 213v2M528.5 216v2M541.5 229v2M545.5 234v2M546.5 236v2M547.5 238v2M548.5 240v2M549.5 242v2M550.5 244v2M551.5 246v2M552.5 248v2M553.5 250v2M554.5 252v3M555.5 255v2M556.5 257v3M557.5 260v3M558.5 263v3M559.5 266v2M560.5 268v3M561.5 271v3M562.5 274v2M563.5 276v2M564.5 278v2M565.5 280v2M566.5 282v2M567.5 284v2M568.5 286v2M570.5 289v2M571.5 291v2M573.5 294v2M575.5 297v2M576.5 299v2M578.5 302v2M580.5 305v2M582.5 308v2M584.5 311v2M586.5 314v2M588.5 317v2M590.5 320v2M592.5 323v2M595.5 327v2M599.5 332v2M738.5 256v2M741.5 252v2M744.5 248v2M745.5 246v2M746.5 244v2M747.5 242v2M748.5 240v2M749.5 238v2M750.5 236v2M751.5 234v2M752.5 232v2M753.5 229v3M754.5 227v2M755.5 225v2M756.5 223v2M757.5 221v2M758.5 219v2M759.5 217v2M760.5 215v2M761.5 213v2M762.5 211v2M763.5 209v2M764.5 207v2M765.5 205v2M766.5 203v2M767.5 201v2M768.5 199v2M769.5 196v3M770.5 194v2M771.5 192v2M772.5 190v2M773.5 188v2M774.5 186v2M775.5 184v2M776.5 182v2M777.5 179v3M778.5 176v3M779.5 173v3M780.5 170v3M781.5 168v2M782.5 165v3M783.5 162v3M784.5 159v3M785.5 156v3M786.5 153v3M787.5 150v3M788.5 147v3M789.5 144v3M790.5 141v3M791.5 138v3M792.5 135v3M793.5 132v3M794.5 130v2M795.5 128v2M796.5 126v2M797.5 124v2M798.5 122v2M799.5 120v2M800.5 118v2M802.5 115v2M804.5 112v2M806.5 109v2M808.5 106v2M898.5 103v2M901.5 107v2M904.5 111v2M907.5 115v2M911.5 120v2M914.5 124v2M915.5 126v2M916.5 128v2M918.5 131v2M919.5 133v2M920.5 135v2M922.5 138v2M924.5 141v2M926.5 144v2M928.5 147v2M930.5 150v2M931.5 152v2M932.5 154v2M933.5 156v2M934.5 158v2M935.5 160v2M936.5 162v2M938.5 165v2M939.5 167v2M940.5 169v2M941.5 171v2M942.5 173v2M943.5 175v2M944.5 177v2M994.5 189v2M996.5 192v2M998.5 195v2M1000.5 198v2M1002.5 201v2M1005.5 205v2M1008.5 209v2M1010.5 212v2M1012.5 215v2M1014.5 218v2M1016.5 221v2M1058.5 238v2M1061.5 242v2M1064.5 246v2M1066.5 249v2M1067.5 251v2M1068.5 253v2M1069.5 255v2M1070.5 257v2M1071.5 259v2M1072.5 261v3M1073.5 264v3M1074.5 267v2M1075.5 269v2M1076.5 271v2M1077.5 273v2M1078.5 275v2M1079.5 277v2M1080.5 279v2M1081.5 281v3M1082.5 284v4M1083.5 288v3M1084.5 291v2M1085.5 293v3M1086.5 296v3M1087.5 299v3M1088.5 302v3M1089.5 305v4M1090.5 309v4M1091.5 313v4M1092.5 317v2M1093.5 319v2M1094.5 321v2M1095.5 323v4M1096.5 327v4M1097.5 331v2M1098.5 333v2M1099.5 335v2M1100.5 337v2M1101.5 339v2M1102.5 341v2M1103.5 343v2M1104.5 345v2M1106.5 348v2M1107.5 350v2M1108.5 352v2M1109.5 354v2M1110.5 356v2M1111.5 358v2M833 88.5h2M831 89.5h2M835 89.5h3M830 90.5h1M838 90.5h2M828 91.5h2M840 91.5h6M826 92.5h2M846 92.5h5M825 93.5h1M851 93.5h2M824 94.5h1M853 94.5h2M823 95.5h1M855 95.5h2M822 96.5h1M857 96.5h2M820 97.5h2M859 97.5h2M819 98.5h1M861 98.5h2M818 99.5h1M863 99.5h2M817 100.5h1M865 100.5h2M815 101.5h2M867 101.5h3M886 101.5h8M814 102.5h1M870 102.5h2M878 102.5h8M894 102.5h4M812 103.5h2M872 103.5h6M810 104.5h2M809 105.5h1M899 105.5h1M900 106.5h1M807 108.5h1M902 109.5h1M903 110.5h1M805 111.5h1M905 113.5h1M803 114.5h1M906 114.5h1M801 117.5h1M908 117.5h1M909 118.5h1M910 119.5h1M912 122.5h1M913 123.5h1M917 130.5h1M921 137.5h1M923 140.5h1M925 143.5h1M927 146.5h1M929 149.5h1M937 164.5h1M945 179.5h1M946 180.5h2M948 181.5h1M949 182.5h1M977 182.5h9M950 183.5h2M976 183.5h1M986 183.5h2M952 184.5h1M975 184.5h1M988 184.5h1M953 185.5h2M974 185.5h1M989 185.5h1M955 186.5h4M973 186.5h1M990 186.5h2M959 187.5h3M972 187.5h1M992 187.5h1M962 188.5h3M971 188.5h1M993 188.5h1M965 189.5h3M970 189.5h1M968 190.5h2M995 191.5h1M997 194.5h1M999 197.5h1M1001 200.5h1M1003 203.5h1M505 204.5h5M1004 204.5h1M510 205.5h8M518 206.5h4M503 207.5h1M1006 207.5h1M502 208.5h1M1007 208.5h1M523 209.5h1M500 211.5h1M1009 211.5h1M499 212.5h1M525 212.5h1M1011 214.5h1M497 215.5h1M527 215.5h1M1013 217.5h1M529 218.5h1M530 219.5h1M531 220.5h1M1015 220.5h1M532 221.5h2M534 222.5h1M535 223.5h1M1017 223.5h3M353 224.5h2M536 224.5h1M1020 224.5h4M352 225.5h1M355 225.5h3M537 225.5h1M1024 225.5h3M350 226.5h2M358 226.5h2M538 226.5h1M1027 226.5h3M349 227.5h1M360 227.5h2M539 227.5h1M1030 227.5h2M348 228.5h1M362 228.5h1M540 228.5h1M1032 228.5h3M346 229.5h2M363 229.5h1M1035 229.5h3M345 230.5h1M364 230.5h1M489 230.5h1M1038 230.5h2M344 231.5h1M365 231.5h1M542 231.5h1M1040 231.5h3M343 232.5h1M366 232.5h1M543 232.5h1M1043 232.5h3M342 233.5h1M367 233.5h1M544 233.5h1M1046 233.5h2M340 234.5h2M368 234.5h1M1048 234.5h3M339 235.5h1M369 235.5h1M486 235.5h1M1051 235.5h3M338 236.5h1M1054 236.5h2M336 237.5h2M1056 237.5h2M334 238.5h2M371 238.5h1M331 239.5h3M329 240.5h2M483 240.5h1M1059 240.5h1M327 241.5h2M373 241.5h1M1060 241.5h1M325 242.5h2M323 243.5h2M321 244.5h2M375 244.5h1M1062 244.5h1M480 245.5h1M1063 245.5h1M319 247.5h1M377 247.5h1M318 248.5h1M378 248.5h2M478 248.5h1M1065 248.5h1M380 249.5h1M477 249.5h1M381 250.5h1M743 250.5h1M316 251.5h1M382 251.5h2M742 251.5h1M315 252.5h1M384 252.5h1M475 252.5h1M385 253.5h1M386 254.5h1M740 254.5h1M313 255.5h1M387 255.5h1M473 255.5h1M739 255.5h1M388 256.5h1M389 257.5h1M390 258.5h1M737 258.5h1M391 259.5h1M735 259.5h2M310 260.5h1M392 260.5h1M734 260.5h1M393 261.5h2M732 261.5h2M395 262.5h2M730 262.5h2M308 263.5h1M397 263.5h2M729 263.5h1M399 264.5h2M727 264.5h2M401 265.5h1M725 265.5h2M402 266.5h1M723 266.5h2M403 267.5h1M721 267.5h2M305 268.5h1M404 268.5h1M719 268.5h2M405 269.5h1M717 269.5h2M406 270.5h1M715 270.5h2M303 271.5h1M407 271.5h1M713 271.5h2M408 272.5h1M464 272.5h1M712 272.5h1M409 273.5h5M462 273.5h2M711 273.5h1M301 274.5h1M414 274.5h5M461 274.5h1M710 274.5h1M419 275.5h2M460 275.5h1M708 275.5h2M421 276.5h2M458 276.5h2M707 276.5h1M299 277.5h1M423 277.5h2M457 277.5h1M706 277.5h1M425 278.5h3M456 278.5h1M705 278.5h1M428 279.5h4M454 279.5h2M704 279.5h1M297 280.5h1M432 280.5h4M453 280.5h1M702 280.5h2M296 281.5h1M436 281.5h4M452 281.5h1M701 281.5h1M294 282.5h2M440 282.5h6M450 282.5h2M700 282.5h1M293 283.5h1M446 283.5h4M698 283.5h2M292 284.5h1M689 284.5h9M290 285.5h2M688 285.5h1M289 286.5h1M686 286.5h2M288 287.5h1M685 287.5h1M287 288.5h1M569 288.5h1M684 288.5h1M286 289.5h1M682 289.5h2M285 290.5h1M681 290.5h1M284 291.5h1M679 291.5h2M283 292.5h1M678 292.5h1M282 293.5h1M572 293.5h1M676 293.5h2M281 294.5h1M674 294.5h2M280 295.5h1M673 295.5h1M574 296.5h1M672 296.5h1M671 297.5h1M278 298.5h1M670 298.5h1M277 299.5h1M668 299.5h2M276 300.5h1M667 300.5h1M577 301.5h1M666 301.5h1M665 302.5h1M274 303.5h1M664 303.5h1M273 304.5h1M579 304.5h1M663 304.5h1M272 305.5h1M662 305.5h1M660 306.5h2M581 307.5h1M659 307.5h1M270 308.5h1M658 308.5h1M269 309.5h1M657 309.5h1M268 310.5h1M583 310.5h1M655 310.5h2M654 311.5h1M652 312.5h2M266 313.5h1M585 313.5h1M650 313.5h2M265 314.5h1M649 314.5h1M648 315.5h1M587 316.5h1M647 316.5h1M263 317.5h1M646 317.5h1M185 318.5h5M262 318.5h1M645 318.5h1M184 319.5h1M190 319.5h5M589 319.5h1M644 319.5h1M183 320.5h1M195 320.5h2M643 320.5h1M182 321.5h1M197 321.5h2M260 321.5h1M642 321.5h1M180 322.5h2M199 322.5h2M259 322.5h1M591 322.5h1M641 322.5h1M179 323.5h1M201 323.5h1M640 323.5h1M178 324.5h1M202 324.5h2M639 324.5h1M177 325.5h1M204 325.5h2M257 325.5h1M593 325.5h1M638 325.5h1M176 326.5h1M206 326.5h1M256 326.5h1M594 326.5h1M636 326.5h2M207 327.5h2M255 327.5h1M635 327.5h1M209 328.5h2M254 328.5h1M634 328.5h1M174 329.5h1M211 329.5h3M253 329.5h1M596 329.5h1M630 329.5h4M173 330.5h1M214 330.5h2M252 330.5h1M597 330.5h1M625 330.5h5M172 331.5h1M216 331.5h3M251 331.5h1M598 331.5h1M623 331.5h2M219 332.5h2M250 332.5h1M622 332.5h1M221 333.5h2M249 333.5h1M620 333.5h2M170 334.5h1M223 334.5h2M247 334.5h2M600 334.5h1M618 334.5h2M225 335.5h3M245 335.5h2M601 335.5h1M617 335.5h1M228 336.5h4M243 336.5h2M602 336.5h2M615 336.5h2M232 337.5h5M241 337.5h2M604 337.5h2M614 337.5h1M237 338.5h4M606 338.5h1M612 338.5h2M607 339.5h2M610 339.5h2M609 340.5h1M1105 347.5h1M1112 360.5h1M0 373.5h1M150 382.5h1M145 391.5h1M141 398.5h1M18 408.5h2M33 408.5h1M20 409.5h2M31 409.5h2M22 410.5h1M29 410.5h2M23 411.5h2M27 411.5h2M35 411.5h1M25 412.5h2M36 412.5h1M38 415.5h1M39 416.5h2M41 417.5h2M43 418.5h2M45 419.5h13M58 420.5h2M60 421.5h1M61 422.5h1M62 423.5h2M64 424.5h1M65 425.5h9M76 430.5h1M78 433.5h1M81 438.5h1M82 439.5h2M84 440.5h1M85 441.5h1M86 442.5h2M88 443.5h1M89 444.5h2M91 445.5h2M93 446.5h2M121 446.5h1M95 447.5h2M97 448.5h2M99 449.5h2M119 449.5h1M101 450.5h2M103 451.5h2M105 452.5h1M117 452.5h1M106 453.5h2M108 454.5h1M109 455.5h1M115 455.5h1M110 456.5h2M112 457.5h1M113 458.5h1" fill="none" stroke="#0000cd" stroke-width="1"/>
<rect x="959" y="260" width="276" height="5" fill="#f93737"/>
<rect x="958" y="316" width="281" height="5" fill="#99cc00"/>
<rect x="1417" y="30" width="2" height="1" fill="#000"/>
<rect x="1417" y="63" width="2" height="1" fill="#000"/>
<rect x="1417" y="96" width="2" height="1" fill="#000"/>
<rect x="1417" y="129" width="2" height="1" fill="#000"/>
<rect x="1417" y="162" width="2" height="1" fill="#000"/>
<rect x="1417" y="195" width="2" height="1" fill="#000"/>
<rect x="1417" y="228" width="2" height="1" fill="#000"/>
<rect x="1417" y="261" width="2" height="1" fill="#000"/>
<rect x="1417" y="294" width="2" height="1" fill="#000"/>
<rect x="1417" y="327" width="2" height="1" fill="#000"/>
<rect x="1417" y="360" width="2" height="1" fill="#000"/>
<rect x="1417" y="393" width="2" height="1" fill="#000"/>
<rect x="1417" y="426" width="2" height="1" fill="#000"/>
<rect x="1417" y="459" width="2" height="1" fill="#000"/>
<rect x="1417" y="492" width="2" height="1" fill="#000"/>
<rect x="1417" y="525" width="2" height="1" fill="#000"/>
<rect x="1417" y="558" width="2" height="1" fill="#000"/>
<rect x="1418" y="364" width="41" height="11" fill="#000"/>
<rect x="1" y="615" width="1" height="14" fill="#c0c0c0"/>
<rect x="9" y="615" width="1" height="21" fill="#c0c0c0"/>
<rect x="17" y="615" width="1" height="25" fill="#c0c0c0"/>
<rect x="25" y="615" width="1" height="27" fill="#c0c0c0"/>
<rect x="33" y="615" width="1" height="24" fill="#c0c0c0"/>
<rect x="41" y="615" width="1" height="22" fill="#c0c0c0"/>
<rect x="49" y="615" width="1" height="21" fill="#c0c0c0"/>
<rect x="57" y="615" width="1" height="22" fill="#c0c0c0"/>
<rect x="65" y="615" width="1" height="23" fill="#c0c0c0"/>
<rect x="73" y="615" width="1" height="25" fill="#c0c0c0"/>
<rect x="81" y="615" width="1" height="32" fill="#c0c0c0"/>
<rect x="89" y="615" width="1" height="29" fill="#c0c0c0"/>
<rect x="97" y="615" width="1" height="27" fill="#c0c0c0"/>
<rect x="105" y="615" width="1" height="24" fill="#c0c0c0"/>
<rect x="113" y="615" width="1" height="24" fill="#c0c0c0"/>
<rect x="121" y="615" width="1" height="19" fill="#c0c0c0"/>
<rect x="129" y="615" width="1" height="14" fill="#c0c0c0"/>
<rect x="137" y="615" width="1" height="7" fill="#c0c0c0"/>
<rect x="153" y="611" width="1" height="5" fill="#c0c0c0"/>
<rect x="161" y="606" width="1" height="10" fill="#c0c0c0"/>
<rect x="169" y="602" width="1" height="14" fill="#c0c0c0"/>
<rect x="177" y="601" width="1" height="15" fill="#c0c0c0"/>
<rect x="185" y="599" width="1" height="17" fill="#c0c0c0"/>
<rect x="193" y="600" width="1" height="16" fill="#c0c0c0"/>
<rect x="201" y="601" width="1" height="15" fill="#c0c0c0"/>
<rect x="209" y="603" width="1" height="13" fill="#c0c0c0"/>
<rect x="217" y="602" width="1" height="14" fill="#c0c0c0"/>
<rect x="225" y="601" width="1" height="15" fill="#c0c0c0"/>
<rect x="233" y="603" width="1" height="13" fill="#c0c0c0"/>
<rect x="241" y="602" width="1" height="14" fill="#c0c0c0"/>
<rect x="249" y="601" width="1" height="15" fill="#c0c0c0"/>
<rect x="257" y="600" width="1" height="16" fill="#c0c0c0"/>
<rect x="265" y="598" width="1" height="18" fill="#c0c0c0"/>
<rect x="273" y="594" width="1" height="22" fill="#c0c0c0"/>
<rect x="281" y="592" width="1" height="24" fill="#c0c0c0"/>
<rect x="289" y="592" width="1" height="24" fill="#c0c0c0"/>
<rect x="297" y="592" width="1" height="24" fill="#c0c0c0"/>
<rect x="305" y="590" width="1" height="26" fill="#c0c0c0"/>
<rect x="313" y="587" width="1" height="29" fill="#c0c0c0"/>
<rect x="321" y="583" width="1" height="33" fill="#c0c0c0"/>
<rect x="329" y="583" width="1" height="33" fill="#c0c0c0"/>
<rect x="337" y="584" width="1" height="32" fill="#c0c0c0"/>
<rect x="345" y="585" width="1" height="31" fill="#c0c0c0"/>
<rect x="353" y="586" width="1" height="30" fill="#c0c0c0"/>
<rect x="361" y="589" width="1" height="27" fill="#c0c0c0"/>
<rect x="369" y="593" width="1" height="23" fill="#c0c0c0"/>
<rect x="377" y="595" width="1" height="21" fill="#c0c0c0"/>
<rect x="385" y="598" width="1" height="18" fill="#c0c0c0"/>
<rect x="393" y="601" width="1" height="15" fill="#c0c0c0"/>
<rect x="401" y="603" width="1" height="13" fill="#c0c0c0"/>
<rect x="409" y="605" width="1" height="11" fill="#c0c0c0"/>
<rect x="417" y="606" width="1" height="10" fill="#c0c0c0"/>
<rect x="425" y="609" width="1" height="7" fill="#c0c0c0"/>
<rect x="433" y="611" width="1" height="5" fill="#c0c0c0"/>
<rect x="441" y="612" width="1" height="4" fill="#c0c0c0"/>
<rect x="449" y="613" width="1" height="3" fill="#c0c0c0"/>
<rect x="457" y="610" width="1" height="6" fill="#c0c0c0"/>
<rect x="465" y="609" width="1" height="7" fill="#c0c0c0"/>
<rect x="473" y="602" width="1" height="14" fill="#c0c0c0"/>
<rect x="481" y="600" width="1" height="16" fill="#c0c0c0"/>
<rect x="489" y="598" width="1" height="18" fill="#c0c0c0"/>
<rect x="497" y="595" width="1" height="21" fill="#c0c0c0"/>
<rect x="505" y="595" width="1" height="21" fill="#c0c0c0"/>
<rect x="513" y="598" width="1" height="18" fill="#c0c0c0"/>
<rect x="521" y="601" width="1" height="15" fill="#c0c0c0"/>
<rect x="529" y="603" width="1" height="13" fill="#c0c0c0"/>
<rect x="537" y="606" width="1" height="10" fill="#c0c0c0"/>
<rect x="545" y="608" width="1" height="8" fill="#c0c0c0"/>
<rect x="553" y="612" width="1" height="4" fill="#c0c0c0"/>
<rect x="561" y="615" width="1" height="5" fill="#c0c0c0"/>
<rect x="569" y="615" width="1" height="10" fill="#c0c0c0"/>
<rect x="577" y="615" width="1" height="13" fill="#c0c0c0"/>
<rect x="585" y="615" width="1" height="15" fill="#c0c0c0"/>
<rect x="593" y="615" width="1" height="18" fill="#c0c0c0"/>
<rect x="601" y="615" width="1" height="19" fill="#c0c0c0"/>
<rect x="609" y="615" width="1" height="19" fill="#c0c0c0"/>
<rect x="617" y="615" width="1" height="19" fill="#c0c0c0"/>
<rect x="625" y="615" width="1" height="17" fill="#c0c0c0"/>
<rect x="633" y="615" width="1" height="16" fill="#c0c0c0"/>
<rect x="641" y="615" width="1" height="13" fill="#c0c0c0"/>
<rect x="649" y="615" width="1" height="11" fill="#c0c0c0"/>
<rect x="657" y="615" width="1" height="10" fill="#c0c0c0"/>
<rect x="665" y="615" width="1" height="7" fill="#c0c0c0"/>
<rect x="673" y="615" width="1" height="5" fill="#c0c0c0"/>
<rect x="681" y="615" width="1" height="3" fill="#c0c0c0"/>
<rect x="689" y="615" width="1" height="2" fill="#c0c0c0"/>
<rect x="697" y="615" width="1" height="1" fill="#c0c0c0"/>
<rect x="705" y="614" width="1" height="2" fill="#c0c0c0"/>
<rect x="713" y="612" width="1" height="4" fill="#c0c0c0"/>
<rect x="721" y="610" width="1" height="6" fill="#c0c0c0"/>
<rect x="729" y="609" width="1" height="7" fill="#c0c0c0"/>
<rect x="737" y="608" width="1" height="8" fill="#c0c0c0"/>
<rect x="745" y="604" width="1" height="12" fill="#c0c0c0"/>
<rect x="753" y="599" width="1" height="17" fill="#c0c0c0"/>
<rect x="761" y="592" width="1" height="24" fill="#c0c0c0"/>
<rect x="769" y="588" width="1" height="28" fill="#c0c0c0"/>
<rect x="777" y="584" width="1" height="32" fill="#c0c0c0"/>
<rect x="785" y="578" width="1" height="38" fill="#c0c0c0"/>
<rect x="793" y="574" width="1" height="42" fill="#c0c0c0"/>
<rect x="801" y="571" width="1" height="45" fill="#c0c0c0"/>
<rect x="809" y="570" width="1" height="46" fill="#c0c0c0"/>
<rect x="817" y="570" width="1" height="46" fill="#c0c0c0"/>
<rect x="825" y="570" width="1" height="46" fill="#c0c0c0"/>
<rect x="833" y="571" width="1" height="45" fill="#c0c0c0"/>
<rect x="841" y="573" width="1" height="43" fill="#c0c0c0"/>
<rect x="849" y="574" width="1" height="42" fill="#c0c0c0"/>
<rect x="857" y="577" width="1" height="39" fill="#c0c0c0"/>
<rect x="865" y="580" width="1" height="36" fill="#c0c0c0"/>
<rect x="873" y="582" width="1" height="34" fill="#c0c0c0"/>
<rect x="881" y="583" width="1" height="33" fill="#c0c0c0"/>
<rect x="889" y="583" width="1" height="33" fill="#c0c0c0"/>
<rect x="897" y="587" width="1" height="29" fill="#c0c0c0"/>
<rect x="905" y="593" width="1" height="23" fill="#c0c0c0"/>
<rect x="913" y="599" width="1" height="17" fill="#c0c0c0"/>
<rect x="921" y="607" width="1" height="9" fill="#c0c0c0"/>
<rect x="929" y="611" width="1" height="5" fill="#c0c0c0"/>
<rect x="937" y="615" width="1" height="1" fill="#c0c0c0"/>
<rect x="945" y="615" width="1" height="1" fill="#c0c0c0"/>
<rect x="953" y="615" width="1" height="1" fill="#c0c0c0"/>
<rect x="961" y="615" width="1" height="2" fill="#c0c0c0"/>
<rect x="969" y="615" width="1" height="4" fill="#c0c0c0"/>
<rect x="977" y="615" width="1" height="4" fill="#c0c0c0"/>
<rect x="985" y="615" width="1" height="5" fill="#c0c0c0"/>
<rect x="993" y="615" width="1" height="10" fill="#c0c0c0"/>
<rect x="1001" y="615" width="1" height="15" fill="#c0c0c0"/>
<rect x="1009" y="615" width="1" height="18" fill="#c0c0c0"/>
<rect x="1017" y="615" width="1" height="19" fill="#c0c0c0"/>
<rect x="1025" y="615" width="1" height="17" fill="#c0c0c0"/>
<rect x="1033" y="615" width="1" height="15" fill="#c0c0c0"/>
<rect x="1041" y="615" width="1" height="13" fill="#c0c0c0"/>
<rect x="1049" y="615" width="1" height="18" fill="#c0c0c0"/>
<rect x="1057" y="615" width="1" height="21" fill="#c0c0c0"/>
<rect x="1065" y="615" width="1" height="27" fill="#c0c0c0"/>
<rect x="1073" y="615" width="1" height="33" fill="#c0c0c0"/>
<rect x="1081" y="615" width="1" height="35" fill="#c0c0c0"/>
<rect x="1089" y="615" width="1" height="39" fill="#c0c0c0"/>
<rect x="1097" y="615" width="1" height="44" fill="#c0c0c0"/>
<rect x="1105" y="615" width="1" height="45" fill="#c0c0c0"/>
<rect x="1113" y="615" width="1" height="46" fill="#c0c0c0"/>
<path d="M854 571.5h2M859 571.5h3M847 572.5h3M853 572.5h1M865 572.5h3M841 573.5h3M871 573.5h3M877 573.5h1M836 574.5h2M878 574.5h2M883 574.5h1M830 575.5h2M835 575.5h1M884 575.5h2M825 576.5h1M829 576.5h1M889 576.5h3M823 577.5h2M895 577.5h1M896 578.5h2M819 579.5h1M901 579.5h3M817 580.5h2M907 581.5h3M813 582.5h1M811 583.5h2M913 583.5h2M915 584.5h1M807 585.5h1M919 585.5h1M350 586.5h2M355 586.5h3M361 586.5h3M367 586.5h3M373 586.5h3M379 586.5h1M806 586.5h1M920 586.5h2M343 587.5h3M349 587.5h1M380 587.5h2M805 587.5h1M337 588.5h3M385 588.5h3M925 588.5h2M331 589.5h3M391 589.5h3M800 589.5h2M927 589.5h1M325 590.5h3M397 590.5h1M799 590.5h1M320 591.5h2M398 591.5h2M795 591.5h1M931 591.5h2M319 592.5h1M403 592.5h1M793 592.5h2M933 592.5h1M313 593.5h3M404 593.5h2M308 594.5h2M409 594.5h3M789 594.5h1M937 594.5h2M302 595.5h2M307 595.5h1M415 595.5h1M787 595.5h2M939 595.5h1M295 596.5h3M301 596.5h1M416 596.5h2M289 597.5h3M421 597.5h1M783 597.5h1M943 597.5h2M283 598.5h3M422 598.5h2M781 598.5h2M945 598.5h1M277 599.5h3M427 599.5h1M529 599.5h3M535 599.5h3M541 599.5h1M949 599.5h1M230 600.5h2M235 600.5h3M241 600.5h3M265 600.5h3M271 600.5h3M428 600.5h2M518 600.5h2M523 600.5h3M542 600.5h2M547 600.5h3M776 600.5h2M950 600.5h2M223 601.5h3M229 601.5h1M247 601.5h3M253 601.5h3M259 601.5h3M433 601.5h2M512 601.5h2M517 601.5h1M553 601.5h3M775 601.5h1M217 602.5h3M435 602.5h1M511 602.5h1M559 602.5h1M771 602.5h1M955 602.5h1M211 603.5h3M439 603.5h1M505 603.5h3M560 603.5h2M769 603.5h2M956 603.5h2M205 604.5h3M440 604.5h2M500 604.5h2M565 604.5h1M201 605.5h1M445 605.5h3M494 605.5h2M499 605.5h1M566 605.5h2M765 605.5h1M199 606.5h2M451 606.5h3M487 606.5h3M493 606.5h1M763 606.5h2M961 606.5h2M457 607.5h3M481 607.5h3M571 607.5h1M963 607.5h1M195 608.5h1M463 608.5h3M469 608.5h3M475 608.5h3M572 608.5h2M757 608.5h3M967 608.5h1M193 609.5h2M752 609.5h2M968 609.5h2M751 610.5h1M973 610.5h1M189 611.5h1M577 611.5h2M745 611.5h3M974 611.5h2M187 612.5h2M579 612.5h1M739 612.5h3M979 612.5h1M583 613.5h1M734 613.5h2M980 613.5h2M183 614.5h1M584 614.5h2M733 614.5h1M985 614.5h2M181 615.5h2M589 615.5h1M728 615.5h2M987 615.5h1M590 616.5h2M727 616.5h1M991 616.5h1M177 617.5h1M721 617.5h3M992 617.5h2M997 617.5h1M175 618.5h2M595 618.5h1M715 618.5h3M998 618.5h2M596 619.5h2M710 619.5h2M1003 619.5h2M171 620.5h1M709 620.5h1M1005 620.5h1M169 621.5h2M704 621.5h2M601 622.5h2M703 622.5h1M1009 622.5h3M603 623.5h1M699 623.5h1M1015 623.5h1M164 624.5h2M607 624.5h1M697 624.5h2M1016 624.5h2M163 625.5h1M608 625.5h2M686 625.5h2M691 625.5h3M1021 625.5h3M613 626.5h3M680 626.5h2M685 626.5h1M1027 626.5h3M159 627.5h1M679 627.5h1M1033 627.5h3M157 628.5h2M619 628.5h3M675 628.5h1M1039 628.5h3M1045 628.5h1M1 629.5h3M673 629.5h2M1046 629.5h2M1051 629.5h1M7 630.5h3M153 630.5h1M625 630.5h3M662 630.5h2M667 630.5h3M1052 630.5h2M13 631.5h3M151 631.5h2M631 631.5h3M637 631.5h1M655 631.5h3M661 631.5h1M1057 631.5h2M19 632.5h3M638 632.5h2M643 632.5h3M649 632.5h3M1059 632.5h1M25 633.5h2M147 633.5h1M1063 633.5h1M27 634.5h1M145 634.5h2M1064 634.5h2M31 635.5h1M1069 635.5h3M32 636.5h2M37 636.5h3M43 636.5h3M49 636.5h3M139 636.5h3M1075 636.5h3M55 637.5h3M61 637.5h1M1081 637.5h3M62 638.5h2M67 638.5h3M133 638.5h3M1087 638.5h1M73 639.5h3M127 639.5h3M1088 639.5h2M79 640.5h3M85 640.5h3M91 640.5h3M97 640.5h3M103 640.5h3M109 640.5h3M115 640.5h3M121 640.5h3M1093 641.5h2M1095 642.5h1M1099 644.5h3M1105 646.5h2M1107 647.5h1M1111 648.5h1M1112 649.5h2" fill="none" stroke="#ff0000" stroke-width="1"/>
<rect x="1417" y="565" width="1" height="1" fill="#000"/>
<rect x="1417" y="615" width="1" height="1" fill="#000"/>
<rect x="1417" y="665" width="1" height="1" fill="#000"/>
<rect x="1417" y="670" width="1" height="1" fill="#000"/>
<line x1="2" y1="708.5" x2="1416" y2="708.5" stroke="#c0c0c0" stroke-width="1" stroke-dasharray="3 3"/>
<line x1="2" y1="759.5" x2="1416" y2="759.5" stroke="#c0c0c0" stroke-width="1" stroke-dasharray="3 3"/>
<path d="M26.5 745v2M28.5 742v2M30.5 739v2M32.5 736v2M61.5 744v2M81.5 753v2M82.5 751v2M83.5 749v2M84.5 747v2M85.5 745v2M86.5 743v2M87.5 741v2M88.5 739v2M89.5 737v2M117.5 736v2M301.5 717v2M322.5 707v2M324.5 710v2M326.5 713v2M328.5 716v2M357.5 723v2M418.5 731v2M421.5 735v2M424.5 739v2M450.5 732v2M451.5 730v2M452.5 728v2M454.5 725v2M455.5 723v2M456.5 721v2M466.5 719v2M467.5 717v2M469.5 714v2M471.5 711v2M472.5 709v2M475.5 710v2M479.5 715v2M507.5 724v2M511.5 729v2M554.5 744v2M555.5 746v2M557.5 749v2M559.5 752v2M560.5 754v2M634.5 740v2M636.5 737v2M638.5 734v2M640.5 731v2M739.5 716v2M743.5 711v2M837.5 705v2M889.5 710v2M890.5 712v2M891.5 714v2M892.5 716v2M893.5 718v3M894.5 721v2M895.5 723v2M896.5 725v2M897.5 727v2M901.5 732v2M914.5 742v2M917.5 746v2M920.5 750v2M923.5 749v2M927.5 744v2M986.5 741v2M989.5 745v2M992.5 749v2M1042.5 739v2M1044.5 742v2M1046.5 745v2M1048.5 748v2M1061.5 755v2M1101.5 760v2M785 694.5h11M784 695.5h1M796 695.5h4M782 696.5h2M800 696.5h3M781 697.5h1M803 697.5h2M761 698.5h2M780 698.5h1M805 698.5h2M759 699.5h2M763 699.5h3M778 699.5h2M807 699.5h2M822 699.5h6M758 700.5h1M766 700.5h2M774 700.5h4M809 700.5h13M828 700.5h4M756 701.5h2M768 701.5h6M832 701.5h2M754 702.5h2M834 702.5h1M753 703.5h1M835 703.5h1M752 704.5h1M836 704.5h1M750 705.5h2M321 706.5h1M749 706.5h1M849 706.5h1M319 707.5h2M748 707.5h1M838 707.5h1M847 707.5h2M850 707.5h1M317 708.5h2M473 708.5h1M746 708.5h2M839 708.5h1M845 708.5h2M851 708.5h1M315 709.5h2M323 709.5h1M474 709.5h1M745 709.5h1M840 709.5h1M843 709.5h2M852 709.5h1M312 710.5h3M744 710.5h1M841 710.5h2M853 710.5h1M886 710.5h3M310 711.5h2M854 711.5h1M881 711.5h5M273 712.5h9M307 712.5h3M325 712.5h1M476 712.5h1M855 712.5h1M879 712.5h2M271 713.5h2M282 713.5h1M305 713.5h2M470 713.5h1M477 713.5h1M742 713.5h1M856 713.5h1M878 713.5h1M270 714.5h1M283 714.5h1M304 714.5h1M478 714.5h1M497 714.5h1M741 714.5h1M857 714.5h1M876 714.5h2M268 715.5h2M284 715.5h1M303 715.5h1M327 715.5h1M495 715.5h2M498 715.5h1M740 715.5h1M858 715.5h2M874 715.5h2M266 716.5h2M285 716.5h1M302 716.5h1M468 716.5h1M493 716.5h2M499 716.5h1M860 716.5h2M872 716.5h2M264 717.5h2M286 717.5h1M480 717.5h1M491 717.5h2M500 717.5h1M862 717.5h1M870 717.5h2M262 718.5h2M287 718.5h1M329 718.5h13M481 718.5h10M501 718.5h1M738 718.5h1M863 718.5h2M867 718.5h3M259 719.5h3M288 719.5h1M300 719.5h1M342 719.5h12M502 719.5h1M737 719.5h1M865 719.5h2M160 720.5h10M257 720.5h2M289 720.5h3M299 720.5h1M354 720.5h1M457 720.5h5M503 720.5h1M735 720.5h2M156 721.5h4M170 721.5h2M255 721.5h2M292 721.5h4M298 721.5h1M355 721.5h1M462 721.5h4M504 721.5h1M710 721.5h14M733 721.5h2M144 722.5h12M172 722.5h2M254 722.5h1M296 722.5h2M356 722.5h1M505 722.5h1M705 722.5h5M724 722.5h4M731 722.5h2M140 723.5h4M174 723.5h1M252 723.5h2M506 723.5h1M704 723.5h1M728 723.5h3M137 724.5h3M175 724.5h2M182 724.5h4M250 724.5h2M703 724.5h1M135 725.5h2M177 725.5h5M186 725.5h2M240 725.5h10M358 725.5h1M702 725.5h1M133 726.5h2M188 726.5h2M217 726.5h3M238 726.5h2M359 726.5h1M508 726.5h1M701 726.5h1M131 727.5h2M190 727.5h1M215 727.5h2M220 727.5h4M235 727.5h3M360 727.5h1M453 727.5h1M509 727.5h1M700 727.5h1M129 728.5h2M191 728.5h2M214 728.5h1M224 728.5h11M361 728.5h2M510 728.5h1M678 728.5h5M699 728.5h1M127 729.5h2M193 729.5h5M212 729.5h2M363 729.5h3M665 729.5h13M683 729.5h3M698 729.5h1M898 729.5h1M125 730.5h2M198 730.5h8M210 730.5h2M366 730.5h2M374 730.5h6M416 730.5h2M641 730.5h2M664 730.5h1M686 730.5h2M694 730.5h4M899 730.5h1M123 731.5h2M206 731.5h4M368 731.5h6M380 731.5h4M414 731.5h2M512 731.5h1M643 731.5h2M663 731.5h1M688 731.5h6M900 731.5h1M121 732.5h2M384 732.5h22M411 732.5h3M513 732.5h10M645 732.5h2M662 732.5h1M120 733.5h1M406 733.5h5M419 733.5h1M523 733.5h3M639 733.5h1M647 733.5h2M660 733.5h2M119 734.5h1M420 734.5h1M433 734.5h3M448 734.5h2M526 734.5h2M649 734.5h3M659 734.5h1M902 734.5h1M33 735.5h2M118 735.5h1M432 735.5h1M436 735.5h4M444 735.5h4M528 735.5h11M652 735.5h4M658 735.5h1M903 735.5h1M977 735.5h1M1032 735.5h3M35 736.5h3M431 736.5h1M440 736.5h4M539 736.5h3M637 736.5h1M656 736.5h2M904 736.5h1M952 736.5h6M976 736.5h1M978 736.5h2M1030 736.5h2M1035 736.5h3M38 737.5h2M90 737.5h17M422 737.5h1M430 737.5h1M542 737.5h2M905 737.5h2M948 737.5h4M958 737.5h4M975 737.5h1M980 737.5h2M1027 737.5h3M1038 737.5h2M31 738.5h1M40 738.5h6M107 738.5h2M116 738.5h1M423 738.5h1M428 738.5h2M544 738.5h2M907 738.5h2M945 738.5h3M962 738.5h2M974 738.5h1M982 738.5h1M1025 738.5h2M1040 738.5h2M46 739.5h8M109 739.5h2M115 739.5h1M427 739.5h1M546 739.5h2M635 739.5h1M909 739.5h2M943 739.5h2M964 739.5h2M972 739.5h2M983 739.5h2M1024 739.5h1M54 740.5h4M111 740.5h2M114 740.5h1M426 740.5h1M548 740.5h2M624 740.5h4M911 740.5h2M942 740.5h1M966 740.5h1M971 740.5h1M985 740.5h1M1023 740.5h1M29 741.5h1M58 741.5h1M113 741.5h1M425 741.5h1M550 741.5h1M622 741.5h2M628 741.5h4M913 741.5h1M940 741.5h2M967 741.5h2M970 741.5h1M1022 741.5h1M1043 741.5h1M59 742.5h1M551 742.5h2M619 742.5h3M632 742.5h2M929 742.5h5M938 742.5h2M969 742.5h1M1021 742.5h1M60 743.5h1M553 743.5h1M614 743.5h5M928 743.5h1M934 743.5h4M987 743.5h1M1020 743.5h1M1 744.5h5M27 744.5h1M608 744.5h6M915 744.5h1M988 744.5h1M1019 744.5h1M1045 744.5h1M6 745.5h5M604 745.5h4M916 745.5h1M1018 745.5h1M11 746.5h2M62 746.5h1M72 746.5h2M601 746.5h3M926 746.5h1M1017 746.5h1M13 747.5h2M24 747.5h2M63 747.5h1M70 747.5h2M74 747.5h1M577 747.5h5M599 747.5h2M925 747.5h1M990 747.5h1M1016 747.5h1M1047 747.5h1M15 748.5h2M20 748.5h4M64 748.5h1M67 748.5h3M75 748.5h1M556 748.5h1M576 748.5h1M582 748.5h5M598 748.5h1M918 748.5h1M924 748.5h1M991 748.5h1M1014 748.5h2M17 749.5h3M65 749.5h2M76 749.5h1M575 749.5h1M587 749.5h3M596 749.5h2M919 749.5h1M1013 749.5h1M77 750.5h1M574 750.5h1M590 750.5h2M594 750.5h2M1012 750.5h1M1049 750.5h5M78 751.5h1M558 751.5h1M572 751.5h2M592 751.5h2M922 751.5h1M993 751.5h2M1010 751.5h2M1054 751.5h4M79 752.5h1M571 752.5h1M921 752.5h1M995 752.5h3M1008 752.5h2M1058 752.5h1M80 753.5h1M570 753.5h1M998 753.5h2M1004 753.5h4M1059 753.5h1M568 754.5h2M1000 754.5h4M1060 754.5h1M564 755.5h4M1110 755.5h4M561 756.5h3M1081 756.5h2M1105 756.5h5M1062 757.5h1M1079 757.5h2M1083 757.5h2M1104 757.5h1M1063 758.5h1M1078 758.5h1M1085 758.5h2M1103 758.5h1M1064 759.5h1M1076 759.5h2M1087 759.5h2M1102 759.5h1M1065 760.5h5M1074 760.5h2M1089 760.5h1M1070 761.5h4M1090 761.5h2M1092 762.5h2M1100 762.5h1M1094 763.5h1M1099 763.5h1M1095 764.5h2M1098 764.5h1M1097 765.5h1" fill="none" stroke="#1e90ff" stroke-width="1"/>
<rect x="1417" y="797" width="1" height="1" fill="#000"/>
<rect x="1" y="799" width="1" height="3" fill="#000"/>
<rect x="65" y="799" width="1" height="3" fill="#000"/>
<rect x="129" y="799" width="1" height="3" fill="#000"/>
<rect x="193" y="799" width="1" height="3" fill="#000"/>
<rect x="257" y="799" width="1" height="3" fill="#000"/>
<rect x="321" y="799" width="1" height="3" fill="#000"/>
<rect x="385" y="799" width="1" height="3" fill="#000"/>
<rect x="449" y="799" width="1" height="3" fill="#000"/>
<rect x="513" y="799" width="1" height="3" fill="#000"/>
<rect x="577" y="799" width="1" height="3" fill="#000"/>
<rect x="641" y="799" width="1" height="3" fill="#000"/>
<rect x="705" y="799" width="1" height="3" fill="#000"/>
<rect x="769" y="799" width="1" height="3" fill="#000"/>
<rect x="833" y="799" width="1" height="3" fill="#000"/>
<rect x="897" y="799" width="1" height="3" fill="#000"/>
<rect x="961" y="799" width="1" height="3" fill="#000"/>
<rect x="1025" y="799" width="1" height="3" fill="#000"/>
<rect x="1089" y="799" width="1" height="3" fill="#000"/>
<rect x="0" y="819" width="1460" height="1" fill="#e3e3e3"/>
<rect x="0" y="822" width="1460" height="19" fill="#f0f0f0"/>
<rect x="0" y="821" width="1460" height="1" fill="#000"/>
<rect x="219" y="820" width="106" height="19" fill="#fff"/>
<rect x="218" y="821" width="1" height="19" fill="#000"/>
<rect x="325" y="821" width="1" height="19" fill="#000"/>
<rect x="218" y="839" width="108" height="1" fill="#000"/>
<rect x="219" y="840" width="108" height="1" fill="#a0a0a0"/>
<rect x="110" y="825" width="1" height="13" fill="#808080"/>
<rect x="434" y="825" width="1" height="13" fill="#808080"/>
<rect x="546" y="825" width="1" height="13" fill="#808080"/>
<rect x="666" y="825" width="1" height="13" fill="#808080"/>
<polygon points="1436,827 1436,834 1432,830.5" fill="#909090"/>
<polygon points="1451,827 1451,834 1455,830.5" fill="#909090"/>
<polygon points="4,29 11,29 7.5,33" fill="#000"/>
</g>
<text x="3.5" y="10" class="tb">H4</text>
<text x="32.5" y="10" class="tb">D1</text>
<text x="60" y="10" class="tb">W1</text>
<text x="85.7" y="10" class="tb" style="letter-spacing:0.6px">MN</text>
<text x="16" y="34" class="s" textLength="68" lengthAdjust="spacing">USDCHF-,Daily</text>
<text x="89.6" y="34" class="s" textLength="141.5" lengthAdjust="spacing">0.99001 0.99098 0.98942 0.99022</text>
<text x="1421.6" y="34" class="s">1.02560</text>
<text x="1421.6" y="67" class="s">1.02220</text>
<text x="1421.6" y="100" class="s">1.01870</text>
<text x="1421.6" y="133" class="s">1.01530</text>
<text x="1421.6" y="166" class="s">1.01180</text>
<text x="1421.6" y="199" class="s">1.00840</text>
<text x="1421.6" y="232" class="s">1.00490</text>
<text x="1421.6" y="265" class="s">1.00150</text>
<text x="1421.6" y="298" class="s">0.99800</text>
<text x="1421.6" y="331" class="s">0.99460</text>
<text x="1421.6" y="364" class="s">0.99110</text>
<text x="1421.6" y="397" class="s">0.98770</text>
<text x="1421.6" y="430" class="s">0.98420</text>
<text x="1421.6" y="463" class="s">0.98080</text>
<text x="1421.6" y="496" class="s">0.97740</text>
<text x="1421.6" y="529" class="s">0.97390</text>
<text x="1421.6" y="562" class="s">0.97050</text>
<text x="1421.6" y="373" class="s" style="fill:#fff;stroke:#fff">0.99022</text>
<text x="4.8" y="576" class="s" textLength="66.5" lengthAdjust="spacing">MACD(12,26,9)</text>
<text x="74.4" y="576" class="s" textLength="84.8" lengthAdjust="spacing">-0.005463 -0.004057</text>
<text x="1420" y="574" class="s">0.006054</text>
<text x="1420" y="619" class="s">0.00</text>
<text x="1420" y="663" class="s">-0.006011</text>
<text x="4.8" y="681" class="s" textLength="32" lengthAdjust="spacing">RSI(14)</text>
<text x="39.8" y="681" class="s" textLength="33.4" lengthAdjust="spacing">33.0930</text>
<text x="1420" y="679" class="s">100</text>
<text x="1419.4" y="712" class="s">70</text>
<text x="1419.6" y="763" class="s">30</text>
<text x="1420" y="795" class="s">0</text>
<text x="0" y="811" class="s d">28 Dec 2018</text>
<text x="64" y="811" class="s d">7 Jan 2019</text>
<text x="128" y="811" class="s d">16 Jan 2019</text>
<text x="192" y="811" class="s d">25 Jan 2019</text>
<text x="256" y="811" class="s d">4 Feb 2019</text>
<text x="320" y="811" class="s d">13 Feb 2019</text>
<text x="384" y="811" class="s d">22 Feb 2019</text>
<text x="448" y="811" class="s d">4 Mar 2019</text>
<text x="512" y="811" class="s d">13 Mar 2019</text>
<text x="576" y="811" class="s d">22 Mar 2019</text>
<text x="640" y="811" class="s d">1 Apr 2019</text>
<text x="704" y="811" class="s d">10 Apr 2019</text>
<text x="768" y="811" class="s d">21 Apr 2019</text>
<text x="832" y="811" class="s d">30 Apr 2019</text>
<text x="896" y="811" class="s d">9 May 2019</text>
<text x="960" y="811" class="s d">19 May 2019</text>
<text x="1024" y="811" class="s d">28 May 2019</text>
<text x="1088" y="811" class="s d">6 Jun 2019</text>
<text x="12.5" y="835.6" class="tab" style="letter-spacing:0.03px">EURUSD-,Daily</text>
<text x="119.5" y="835.6" class="tab" style="letter-spacing:0.17px">AUDUSD-,Daily</text>
<text x="229.5" y="835.4" class="tab" style="letter-spacing:0.06px;fill:#000">USDCHF-,Daily</text>
<text x="336.4" y="835.6" class="tab" style="letter-spacing:0.12px">USDCAD-,Daily</text>
<text x="445.1" y="835.6" class="tab" style="letter-spacing:0.34px">USDCNH-,Daily</text>
<text x="555.9" y="835.6" class="tab" style="letter-spacing:0.15px">EURCHF-,Weekly</text>
</svg></body></html>
